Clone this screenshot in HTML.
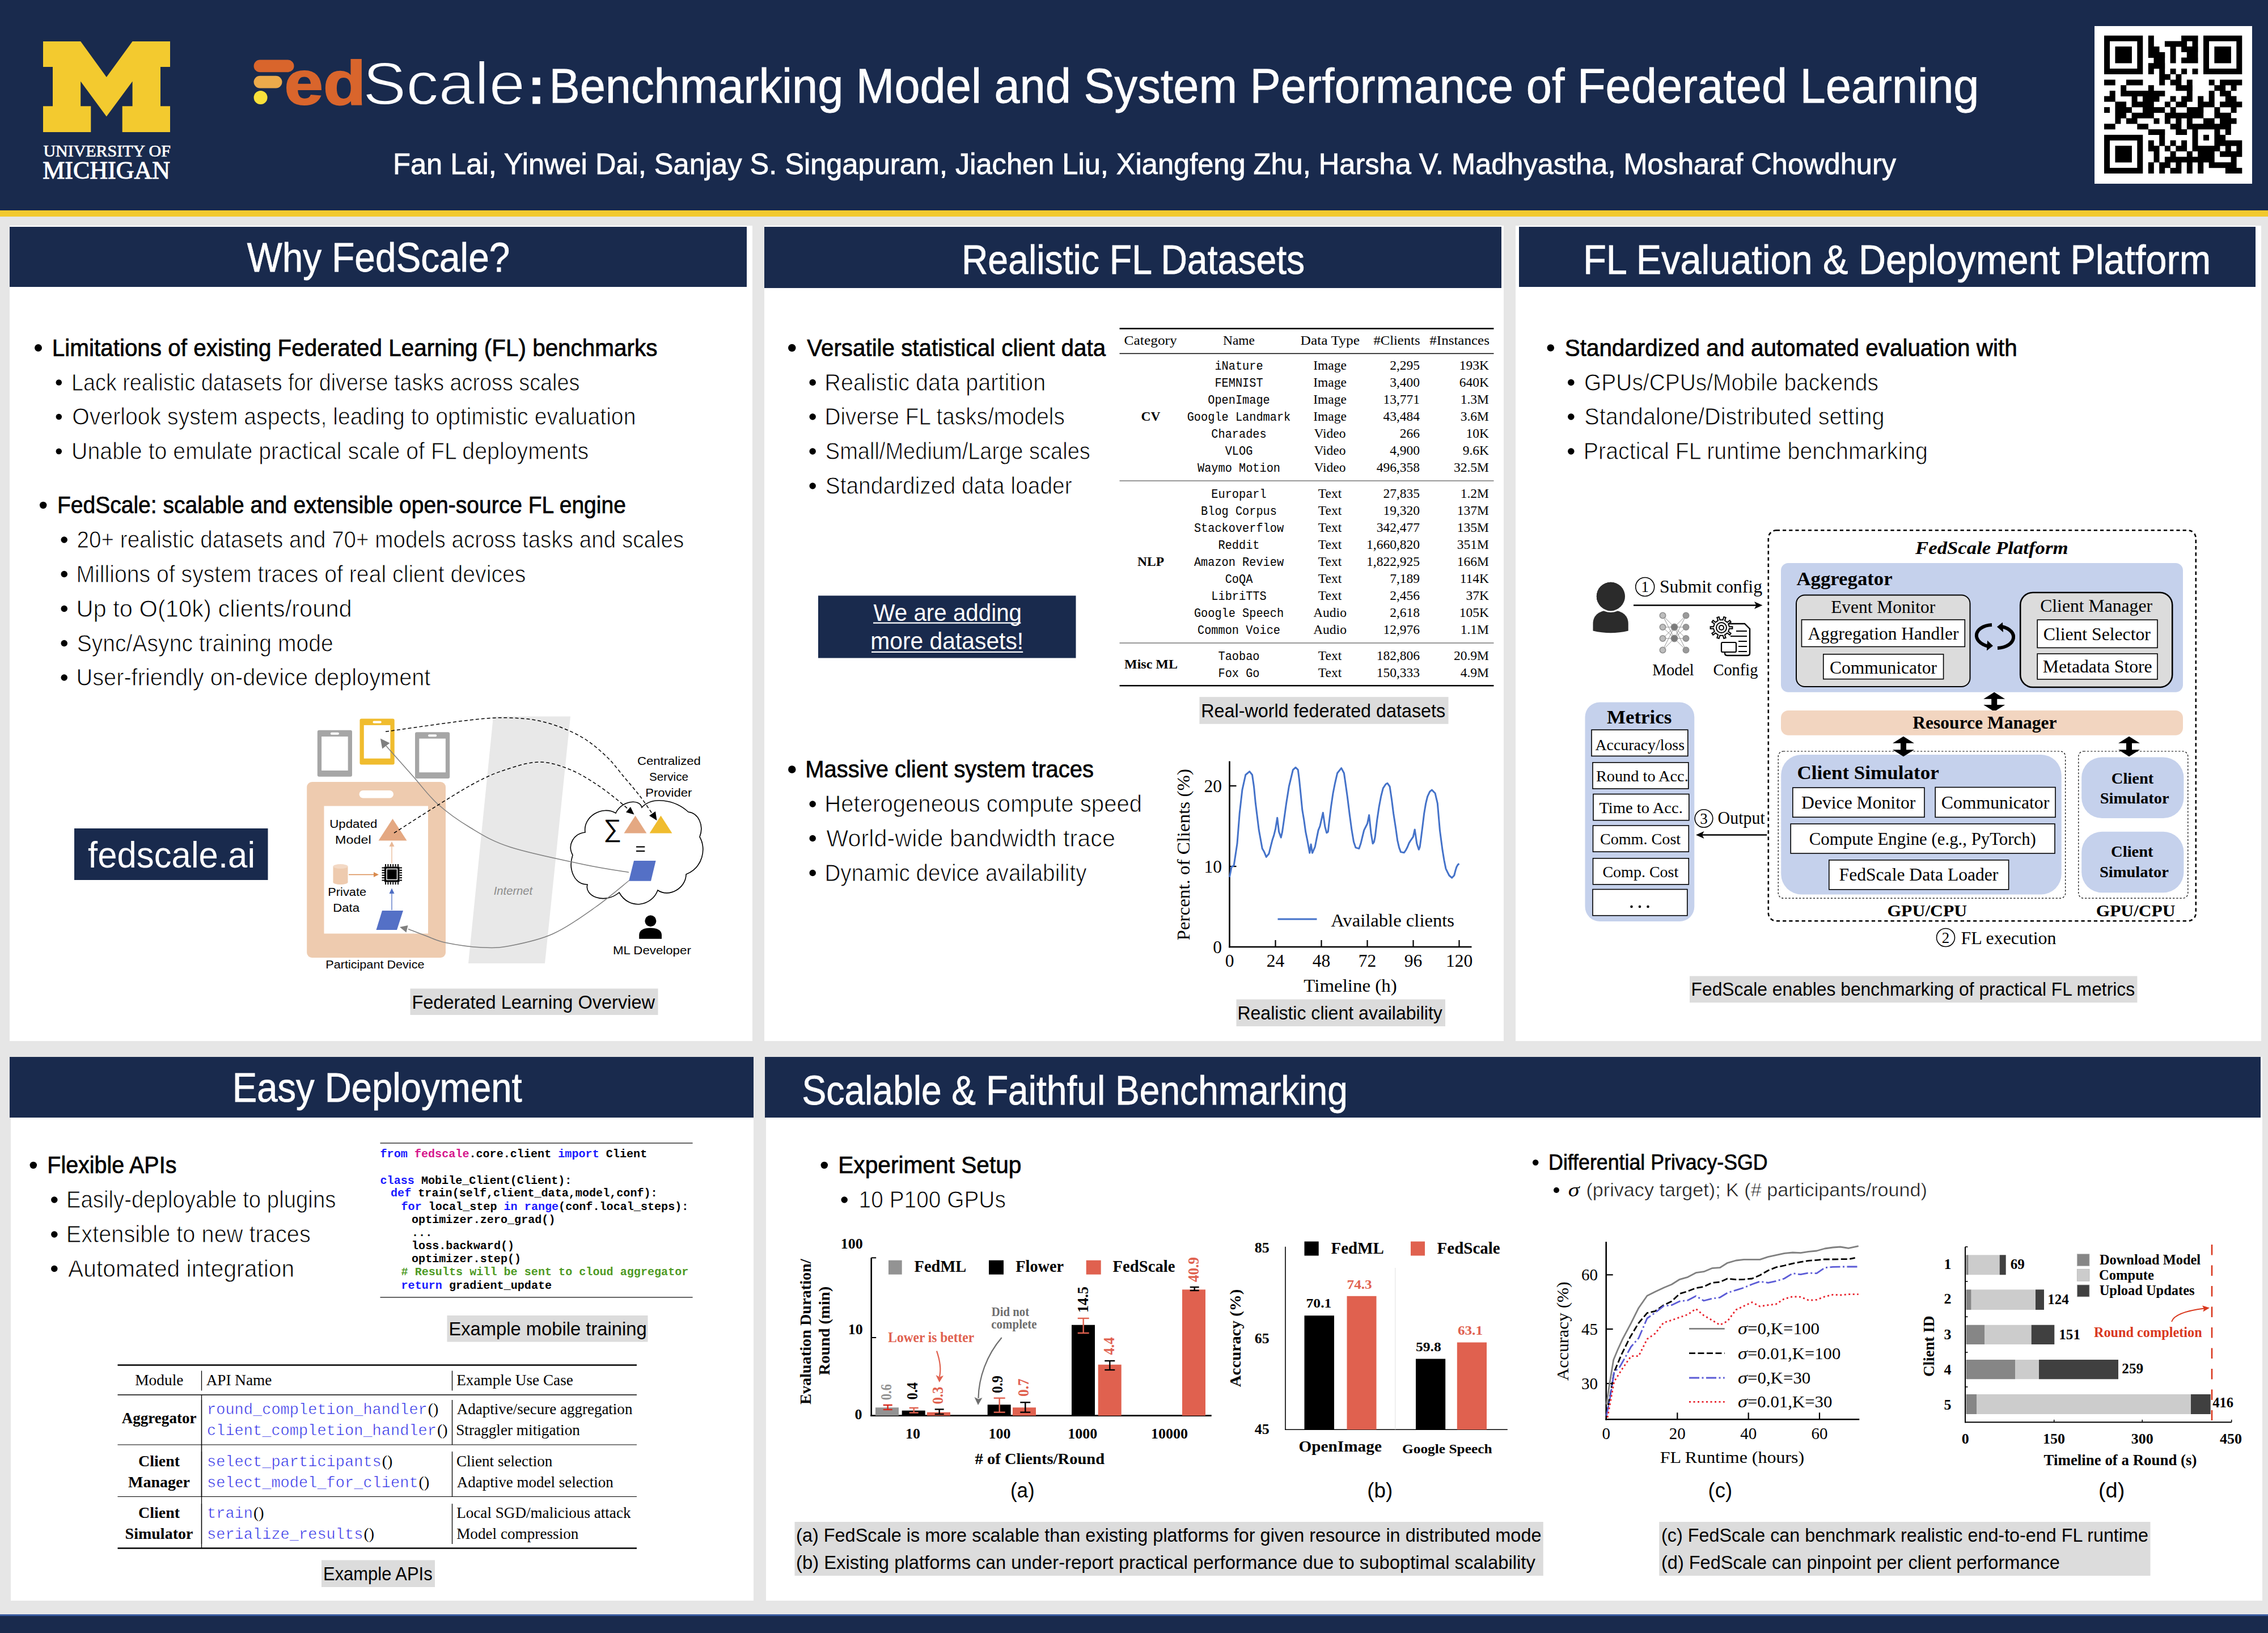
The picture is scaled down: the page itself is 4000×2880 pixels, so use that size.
<!DOCTYPE html>
<html lang="en"><head><meta charset="utf-8"><title>FedScale: Benchmarking Model and System Performance of Federated Learning</title>
<style>
html,body{margin:0;padding:0}
body{width:4000px;height:2880px;position:relative;overflow:hidden;background:#e6e6e6;font-family:"Liberation Sans",sans-serif}
body>div,body>header,body>section,body>footer{position:absolute;display:block}
svg{position:absolute;left:0;top:0}
text{white-space:pre}
.sa{font-family:"Liberation Sans",sans-serif}
.sab{font-family:"Liberation Sans",sans-serif;font-weight:bold}
.sai{font-family:"Liberation Sans",sans-serif;font-style:italic}
.lt{font-family:"Liberation Sans",sans-serif;stroke:#fff;stroke-width:0.9px}
.md{font-family:"Liberation Sans",sans-serif;stroke:#000;stroke-width:0.7px}
.wt{font-family:"Liberation Sans",sans-serif;fill:#fff;stroke:#fff;stroke-width:0.8px}
.se{font-family:"Liberation Serif",serif}
.seb{font-family:"Liberation Serif",serif;font-weight:bold}
.sei{font-family:"Liberation Serif",serif;font-style:italic}
.sebi{font-family:"Liberation Serif",serif;font-weight:bold;font-style:italic}
.mo{font-family:"Liberation Mono",monospace}
.mob{font-family:"Liberation Mono",monospace;font-weight:bold}
</style></head><body>
<header style="left:0px;top:0px;width:4000px;height:370.6px;background:#192a4d"></header>
<div style="left:0px;top:370.6px;width:4000px;height:11.899999999999977px;background:#f2c92e"></div>
<section style="left:17px;top:398.3px;width:1310px;height:1437.7px;background:#fff"></section>
<div style="left:17px;top:399.6px;width:1300px;height:106.39999999999998px;background:#192a4d"></div>
<section style="left:1348px;top:398.3px;width:1304px;height:1437.7px;background:#fff"></section>
<div style="left:1348px;top:399.6px;width:1300px;height:108.39999999999998px;background:#192a4d"></div>
<section style="left:2673px;top:398.3px;width:1315px;height:1437.7px;background:#fff"></section>
<div style="left:2679px;top:399.6px;width:1299px;height:106.39999999999998px;background:#192a4d"></div>
<section style="left:19px;top:1864px;width:1310px;height:959px;background:#fff"></section>
<div style="left:17px;top:1864px;width:1312px;height:106.5px;background:#192a4d"></div>
<section style="left:1351px;top:1864px;width:2639px;height:959px;background:#fff"></section>
<div style="left:1349px;top:1864px;width:2638px;height:106.5px;background:#192a4d"></div>
<div style="left:0px;top:2847px;width:4000px;height:3px;background:#3a5ba0"></div>
<footer style="left:0px;top:2850px;width:4000px;height:30px;background:#192a4d"></footer>
<svg width="4000" height="2880" viewBox="0 0 4000 2880">
<polygon points="76.0,72.9 142.2,72.9 187.8,136.0 233.6,72.9 300.0,72.9 300.0,117.9 283.0,117.9 283.0,187.3 300.0,187.3 300.0,233.0 215.7,233.0 215.7,187.3 233.6,187.3 233.6,143.5 187.8,205.5 142.2,143.5 142.2,187.3 160.3,187.3 160.3,233.0 76.0,233.0 76.0,187.3 93.0,187.3 93.0,117.9 76.0,117.9" fill="#f3ca2f"/>
<text class="se" font-size="29" fill="#fff" textLength="224.4" lengthAdjust="spacingAndGlyphs" x="76.4" y="275.7" stroke="#fff" stroke-width="0.7">UNIVERSITY OF</text>
<text class="se" font-size="44" fill="#fff" textLength="224.9" lengthAdjust="spacingAndGlyphs" x="75.2" y="314.5" stroke="#fff" stroke-width="1">MICHIGAN</text>
<rect x="447.6" y="105.6" width="70.9" height="21.7" fill="#d9652c" rx="10.85"/>
<rect x="447.6" y="133.7" width="49.9" height="21.7" fill="#ecaa4b" rx="10.85"/>
<circle cx="459.6" cy="172.0" r="12" fill="#f9e03a"/>
<text class="sab" font-size="110" fill="#d9652c" textLength="143.7" lengthAdjust="spacingAndGlyphs" x="501.5" y="183.6" stroke="#d9652c" stroke-width="2.2">ed</text>
<text class="sa" font-size="105" fill="#fff" textLength="286.3" lengthAdjust="spacingAndGlyphs" x="639.9" y="183.6" stroke="#192a4d" stroke-width="1.8">Scale</text>
<text class="sab" font-size="90" fill="#fff" x="931.0" y="183.3" stroke="#fff" stroke-width="0.5" stroke-linejoin="round">:</text>
<text class="wt" font-size="85" textLength="2522.0" lengthAdjust="spacingAndGlyphs" x="968.5" y="181.0">Benchmarking Model and System Performance of Federated Learning</text>
<text class="wt" font-size="52" textLength="2651.0" lengthAdjust="spacingAndGlyphs" x="693.0" y="307.0">Fan Lai, Yinwei Dai, Sanjay S. Singapuram, Jiachen Liu, Xiangfeng Zhu, Harsha V. Madhyastha, Mosharaf Chowdhury</text>
<rect x="3694.0" y="46.0" width="278.0" height="278.0" fill="#fff"/>
<path d="M3711.0 62.7h68.3v10.0h-68.3zM3788.8 62.7h10.0v10.0h-10.0zM3847.1 62.7h29.5v10.0h-29.5zM3886.0 62.7h68.3v10.0h-68.3zM3711.0 72.4h10.0v10.0h-10.0zM3769.3 72.4h10.0v10.0h-10.0zM3788.8 72.4h10.0v10.0h-10.0zM3817.9 72.4h39.2v10.0h-39.2zM3866.5 72.4h10.0v10.0h-10.0zM3886.0 72.4h10.0v10.0h-10.0zM3944.3 72.4h10.0v10.0h-10.0zM3711.0 82.1h10.0v10.0h-10.0zM3730.4 82.1h29.5v10.0h-29.5zM3769.3 82.1h10.0v10.0h-10.0zM3788.8 82.1h19.7v10.0h-19.7zM3827.6 82.1h10.0v10.0h-10.0zM3847.1 82.1h29.5v10.0h-29.5zM3886.0 82.1h10.0v10.0h-10.0zM3905.4 82.1h29.5v10.0h-29.5zM3944.3 82.1h10.0v10.0h-10.0zM3711.0 91.9h10.0v10.0h-10.0zM3730.4 91.9h29.5v10.0h-29.5zM3769.3 91.9h10.0v10.0h-10.0zM3788.8 91.9h29.5v10.0h-29.5zM3827.6 91.9h10.0v10.0h-10.0zM3856.8 91.9h19.7v10.0h-19.7zM3886.0 91.9h10.0v10.0h-10.0zM3905.4 91.9h29.5v10.0h-29.5zM3944.3 91.9h10.0v10.0h-10.0zM3711.0 101.6h10.0v10.0h-10.0zM3730.4 101.6h29.5v10.0h-29.5zM3769.3 101.6h10.0v10.0h-10.0zM3798.5 101.6h19.7v10.0h-19.7zM3827.6 101.6h10.0v10.0h-10.0zM3847.1 101.6h29.5v10.0h-29.5zM3886.0 101.6h10.0v10.0h-10.0zM3905.4 101.6h29.5v10.0h-29.5zM3944.3 101.6h10.0v10.0h-10.0zM3711.0 111.3h10.0v10.0h-10.0zM3769.3 111.3h10.0v10.0h-10.0zM3788.8 111.3h29.5v10.0h-29.5zM3886.0 111.3h10.0v10.0h-10.0zM3944.3 111.3h10.0v10.0h-10.0zM3711.0 121.0h68.3v10.0h-68.3zM3788.8 121.0h10.0v10.0h-10.0zM3808.2 121.0h10.0v10.0h-10.0zM3827.6 121.0h10.0v10.0h-10.0zM3847.1 121.0h10.0v10.0h-10.0zM3866.5 121.0h10.0v10.0h-10.0zM3886.0 121.0h68.3v10.0h-68.3zM3808.2 130.7h19.7v10.0h-19.7zM3837.4 130.7h10.0v10.0h-10.0zM3711.0 140.5h19.7v10.0h-19.7zM3749.9 140.5h29.5v10.0h-29.5zM3808.2 140.5h10.0v10.0h-10.0zM3827.6 140.5h19.7v10.0h-19.7zM3856.8 140.5h10.0v10.0h-10.0zM3895.7 140.5h10.0v10.0h-10.0zM3915.1 140.5h39.2v10.0h-39.2zM3740.2 150.2h10.0v10.0h-10.0zM3788.8 150.2h10.0v10.0h-10.0zM3837.4 150.2h29.5v10.0h-29.5zM3905.4 150.2h19.7v10.0h-19.7zM3934.6 150.2h10.0v10.0h-10.0zM3720.7 159.9h10.0v10.0h-10.0zM3740.2 159.9h78.1v10.0h-78.1zM3856.8 159.9h10.0v10.0h-10.0zM3895.7 159.9h10.0v10.0h-10.0zM3915.1 159.9h19.7v10.0h-19.7zM3711.0 169.6h19.7v10.0h-19.7zM3759.6 169.6h10.0v10.0h-10.0zM3779.0 169.6h29.5v10.0h-29.5zM3827.6 169.6h10.0v10.0h-10.0zM3847.1 169.6h19.7v10.0h-19.7zM3876.2 169.6h10.0v10.0h-10.0zM3895.7 169.6h10.0v10.0h-10.0zM3924.8 169.6h19.7v10.0h-19.7zM3730.4 179.3h19.7v10.0h-19.7zM3759.6 179.3h39.2v10.0h-39.2zM3817.9 179.3h10.0v10.0h-10.0zM3837.4 179.3h19.7v10.0h-19.7zM3876.2 179.3h29.5v10.0h-29.5zM3915.1 179.3h39.2v10.0h-39.2zM3711.0 189.1h10.0v10.0h-10.0zM3730.4 189.1h29.5v10.0h-29.5zM3779.0 189.1h39.2v10.0h-39.2zM3827.6 189.1h10.0v10.0h-10.0zM3856.8 189.1h29.5v10.0h-29.5zM3905.4 189.1h10.0v10.0h-10.0zM3934.6 189.1h10.0v10.0h-10.0zM3730.4 198.8h19.7v10.0h-19.7zM3759.6 198.8h39.2v10.0h-39.2zM3817.9 198.8h68.3v10.0h-68.3zM3905.4 198.8h29.5v10.0h-29.5zM3730.4 208.5h10.0v10.0h-10.0zM3749.9 208.5h19.7v10.0h-19.7zM3798.5 208.5h10.0v10.0h-10.0zM3817.9 208.5h10.0v10.0h-10.0zM3837.4 208.5h10.0v10.0h-10.0zM3856.8 208.5h10.0v10.0h-10.0zM3886.0 208.5h19.7v10.0h-19.7zM3915.1 208.5h29.5v10.0h-29.5zM3711.0 218.2h19.7v10.0h-19.7zM3769.3 218.2h19.7v10.0h-19.7zM3827.6 218.2h19.7v10.0h-19.7zM3856.8 218.2h78.1v10.0h-78.1zM3788.8 227.9h29.5v10.0h-29.5zM3837.4 227.9h19.7v10.0h-19.7zM3866.5 227.9h10.0v10.0h-10.0zM3905.4 227.9h10.0v10.0h-10.0zM3924.8 227.9h10.0v10.0h-10.0zM3711.0 237.7h68.3v10.0h-68.3zM3808.2 237.7h10.0v10.0h-10.0zM3866.5 237.7h10.0v10.0h-10.0zM3886.0 237.7h10.0v10.0h-10.0zM3905.4 237.7h19.7v10.0h-19.7zM3711.0 247.4h10.0v10.0h-10.0zM3769.3 247.4h10.0v10.0h-10.0zM3788.8 247.4h10.0v10.0h-10.0zM3808.2 247.4h10.0v10.0h-10.0zM3827.6 247.4h10.0v10.0h-10.0zM3847.1 247.4h10.0v10.0h-10.0zM3866.5 247.4h10.0v10.0h-10.0zM3905.4 247.4h48.9v10.0h-48.9zM3711.0 257.1h10.0v10.0h-10.0zM3730.4 257.1h29.5v10.0h-29.5zM3769.3 257.1h10.0v10.0h-10.0zM3788.8 257.1h19.7v10.0h-19.7zM3817.9 257.1h10.0v10.0h-10.0zM3837.4 257.1h19.7v10.0h-19.7zM3866.5 257.1h48.9v10.0h-48.9zM3924.8 257.1h10.0v10.0h-10.0zM3944.3 257.1h10.0v10.0h-10.0zM3711.0 266.8h10.0v10.0h-10.0zM3730.4 266.8h29.5v10.0h-29.5zM3769.3 266.8h10.0v10.0h-10.0zM3798.5 266.8h10.0v10.0h-10.0zM3827.6 266.8h10.0v10.0h-10.0zM3856.8 266.8h10.0v10.0h-10.0zM3876.2 266.8h29.5v10.0h-29.5zM3915.1 266.8h39.2v10.0h-39.2zM3711.0 276.5h10.0v10.0h-10.0zM3730.4 276.5h29.5v10.0h-29.5zM3769.3 276.5h10.0v10.0h-10.0zM3798.5 276.5h10.0v10.0h-10.0zM3817.9 276.5h87.8v10.0h-87.8zM3934.6 276.5h10.0v10.0h-10.0zM3711.0 286.3h10.0v10.0h-10.0zM3769.3 286.3h10.0v10.0h-10.0zM3788.8 286.3h10.0v10.0h-10.0zM3808.2 286.3h19.7v10.0h-19.7zM3837.4 286.3h10.0v10.0h-10.0zM3856.8 286.3h10.0v10.0h-10.0zM3876.2 286.3h10.0v10.0h-10.0zM3895.7 286.3h48.9v10.0h-48.9zM3711.0 296.0h68.3v10.0h-68.3zM3788.8 296.0h10.0v10.0h-10.0zM3808.2 296.0h10.0v10.0h-10.0zM3827.6 296.0h19.7v10.0h-19.7zM3856.8 296.0h10.0v10.0h-10.0zM3876.2 296.0h10.0v10.0h-10.0zM3924.8 296.0h29.5v10.0h-29.5z" fill="#000"/>
<text class="wt" font-size="72" textLength="463.5" lengthAdjust="spacingAndGlyphs" x="435.7" y="479.0">Why FedScale?</text>
<circle cx="67.5" cy="613.5" r="6.5" fill="#000"/>
<text class="md" font-size="42" textLength="1067.6" lengthAdjust="spacingAndGlyphs" x="91.8" y="627.5">Limitations of existing Federated Learning (FL) benchmarks</text>
<circle cx="103.8" cy="674.5" r="5.25" fill="#000"/>
<text class="lt" font-size="42" textLength="896.4" lengthAdjust="spacingAndGlyphs" x="126.0" y="688.5">Lack realistic datasets for diverse tasks across scales</text>
<circle cx="103.8" cy="735.0" r="5.25" fill="#000"/>
<text class="lt" font-size="42" textLength="994.3" lengthAdjust="spacingAndGlyphs" x="127.2" y="749.0">Overlook system aspects, leading to optimistic evaluation</text>
<circle cx="103.8" cy="796.0" r="5.25" fill="#000"/>
<text class="lt" font-size="42" textLength="912.2" lengthAdjust="spacingAndGlyphs" x="126.1" y="810.0">Unable to emulate practical scale of FL deployments</text>
<circle cx="76.2" cy="891.0" r="6.25" fill="#000"/>
<text class="md" font-size="42" textLength="1003.0" lengthAdjust="spacingAndGlyphs" x="100.9" y="905.0">FedScale: scalable and extensible open-source FL engine</text>
<circle cx="113.2" cy="952.0" r="5.75" fill="#000"/>
<text class="lt" font-size="42" textLength="1070.7" lengthAdjust="spacingAndGlyphs" x="135.6" y="966.0">20+ realistic datasets and 70+ models across tasks and scales</text>
<circle cx="113.2" cy="1012.5" r="5.75" fill="#000"/>
<text class="lt" font-size="42" textLength="793.0" lengthAdjust="spacingAndGlyphs" x="134.4" y="1026.5">Millions of system traces of real client devices</text>
<circle cx="113.2" cy="1073.5" r="5.75" fill="#000"/>
<text class="lt" font-size="42" textLength="486.4" lengthAdjust="spacingAndGlyphs" x="134.4" y="1087.5">Up to O(10k) clients/round</text>
<circle cx="113.2" cy="1134.5" r="5.75" fill="#000"/>
<text class="lt" font-size="42" textLength="452.1" lengthAdjust="spacingAndGlyphs" x="135.7" y="1148.5">Sync/Async training mode</text>
<circle cx="113.2" cy="1195.0" r="5.75" fill="#000"/>
<text class="lt" font-size="42" textLength="624.9" lengthAdjust="spacingAndGlyphs" x="134.5" y="1209.0">User-friendly on-device deployment</text>
<rect x="131.0" y="1461.0" width="341.5" height="91.0" fill="#192a4d"/>
<text class="sa" font-size="64" fill="#fff" textLength="295.0" lengthAdjust="spacingAndGlyphs" x="155.1" y="1530.0">fedscale.ai</text>
<polygon points="870.0,1263.5 1006.0,1263.5 961.0,1699.0 826.0,1699.0" fill="#e8e8e8"/>
<text class="sai" font-size="21" fill="#8c8c8c" textLength="68.5" lengthAdjust="spacingAndGlyphs" x="870.7" y="1577.5">Internet</text>
<rect x="559.8" y="1287.7" width="61.2" height="82.0" fill="#a6a6a6" rx="3"/>
<rect x="567.1" y="1299.0" width="46.6" height="59.9" fill="#fff"/>
<rect x="582.8" y="1291.7" width="15.2" height="4.0" fill="#fff" rx="2"/>
<rect x="634.5" y="1267.6" width="61.2" height="80.9" fill="#f0bc2e" rx="3"/>
<rect x="641.8" y="1278.9" width="46.6" height="58.8" fill="#fff"/>
<rect x="657.5" y="1271.6" width="15.2" height="4.0" fill="#fff" rx="2"/>
<rect x="732.0" y="1291.3" width="61.2" height="81.7" fill="#a6a6a6" rx="3"/>
<rect x="739.3" y="1302.6" width="46.6" height="59.6" fill="#fff"/>
<rect x="755.0" y="1295.3" width="15.2" height="4.0" fill="#fff" rx="2"/>
<rect x="541.2" y="1379.0" width="244.8" height="310.0" fill="#eecbaf" rx="9"/>
<rect x="571.5" y="1421.5" width="183.5" height="225.0" fill="#fff"/>
<rect x="633.5" y="1394.0" width="60.5" height="13.5" fill="#fff" rx="6.7"/>
<text class="sa" font-size="20" textLength="84.1" lengthAdjust="spacingAndGlyphs" x="581.3" y="1460.0">Updated</text>
<text class="sa" font-size="20" textLength="63.5" lengthAdjust="spacingAndGlyphs" x="591.1" y="1487.5">Model</text>
<polygon points="692.5,1444.0 717.5,1482.5 667.5,1482.5" fill="#e4a882"/>
<line x1="691.0" y1="1522.5" x2="691.0" y2="1492.0" stroke="#e9b896" stroke-width="1.3"/>
<polygon points="691.0,1484.0 695.5,1493.0 686.5,1493.0" fill="#e9b896"/>
<rect x="587.5" y="1528.0" width="26.0" height="28.0" fill="#eecbaf"/>
<ellipse cx="600.5" cy="1556" rx="13" ry="4" fill="#eecbaf"/><ellipse cx="600.5" cy="1528" rx="13" ry="4" fill="#f3d9c5"/>
<line x1="615.0" y1="1542.5" x2="660.0" y2="1542.5" stroke="#d98b4f" stroke-width="1.3"/>
<polygon points="668.0,1542.5 659.0,1538.0 659.0,1547.0" fill="#d98b4f"/>
<rect x="678.0" y="1528.5" width="26.5" height="27.0" fill="#000"/>
<rect x="682.0" y="1532.5" width="18.5" height="19.0" fill="none" stroke="#fff" stroke-width="1.5"/>
<rect x="685.5" y="1536.0" width="11.5" height="11.5" fill="#000"/>
<line x1="680.0" y1="1524.0" x2="680.0" y2="1528.5" stroke="#000" stroke-width="2"/>
<line x1="680.0" y1="1555.5" x2="680.0" y2="1560.0" stroke="#000" stroke-width="2"/>
<line x1="673.5" y1="1530.5" x2="678.0" y2="1530.5" stroke="#000" stroke-width="2"/>
<line x1="704.5" y1="1530.5" x2="709.0" y2="1530.5" stroke="#000" stroke-width="2"/>
<line x1="684.4" y1="1524.0" x2="684.4" y2="1528.5" stroke="#000" stroke-width="2"/>
<line x1="684.4" y1="1555.5" x2="684.4" y2="1560.0" stroke="#000" stroke-width="2"/>
<line x1="673.5" y1="1534.9" x2="678.0" y2="1534.9" stroke="#000" stroke-width="2"/>
<line x1="704.5" y1="1534.9" x2="709.0" y2="1534.9" stroke="#000" stroke-width="2"/>
<line x1="688.8" y1="1524.0" x2="688.8" y2="1528.5" stroke="#000" stroke-width="2"/>
<line x1="688.8" y1="1555.5" x2="688.8" y2="1560.0" stroke="#000" stroke-width="2"/>
<line x1="673.5" y1="1539.3" x2="678.0" y2="1539.3" stroke="#000" stroke-width="2"/>
<line x1="704.5" y1="1539.3" x2="709.0" y2="1539.3" stroke="#000" stroke-width="2"/>
<line x1="693.2" y1="1524.0" x2="693.2" y2="1528.5" stroke="#000" stroke-width="2"/>
<line x1="693.2" y1="1555.5" x2="693.2" y2="1560.0" stroke="#000" stroke-width="2"/>
<line x1="673.5" y1="1543.7" x2="678.0" y2="1543.7" stroke="#000" stroke-width="2"/>
<line x1="704.5" y1="1543.7" x2="709.0" y2="1543.7" stroke="#000" stroke-width="2"/>
<line x1="697.6" y1="1524.0" x2="697.6" y2="1528.5" stroke="#000" stroke-width="2"/>
<line x1="697.6" y1="1555.5" x2="697.6" y2="1560.0" stroke="#000" stroke-width="2"/>
<line x1="673.5" y1="1548.1" x2="678.0" y2="1548.1" stroke="#000" stroke-width="2"/>
<line x1="704.5" y1="1548.1" x2="709.0" y2="1548.1" stroke="#000" stroke-width="2"/>
<line x1="702.0" y1="1524.0" x2="702.0" y2="1528.5" stroke="#000" stroke-width="2"/>
<line x1="702.0" y1="1555.5" x2="702.0" y2="1560.0" stroke="#000" stroke-width="2"/>
<line x1="673.5" y1="1552.5" x2="678.0" y2="1552.5" stroke="#000" stroke-width="2"/>
<line x1="704.5" y1="1552.5" x2="709.0" y2="1552.5" stroke="#000" stroke-width="2"/>
<text class="sa" font-size="20" textLength="67.8" lengthAdjust="spacingAndGlyphs" x="578.3" y="1580.0">Private</text>
<text class="sa" font-size="20" textLength="46.8" lengthAdjust="spacingAndGlyphs" x="587.2" y="1607.5">Data</text>
<line x1="691.0" y1="1605.0" x2="691.0" y2="1575.0" stroke="#4f6fc4" stroke-width="1.3"/>
<polygon points="691.0,1566.5 695.5,1576.0 686.5,1576.0" fill="#4f6fc4"/>
<polygon points="674.0,1606.0 711.0,1606.0 700.0,1640.0 663.5,1640.0" fill="#5470c6"/>
<text class="sa" font-size="20" textLength="174.2" lengthAdjust="spacingAndGlyphs" x="574.3" y="1707.5">Participant Device</text>
<path d="M1010 1508 C1000 1490 1012 1470 1032 1468 C1028 1440 1062 1420 1086 1434 C1096 1412 1128 1408 1132 1424 C1150 1404 1190 1410 1214 1432 C1232 1434 1242 1456 1234 1476 C1246 1496 1240 1530 1210 1542 C1210 1566 1180 1584 1160 1570 C1150 1598 1110 1606 1092 1574 C1066 1596 1030 1580 1036 1560 C1012 1560 1002 1532 1010 1508Z" fill="#fff" stroke="#000" stroke-width="1.6"/>
<text class="sa" font-size="20" textLength="112.0" lengthAdjust="spacingAndGlyphs" x="1123.9" y="1348.7">Centralized</text>
<text class="sa" font-size="20" textLength="68.9" lengthAdjust="spacingAndGlyphs" x="1145.1" y="1377.0">Service</text>
<text class="sa" font-size="20" textLength="82.2" lengthAdjust="spacingAndGlyphs" x="1138.2" y="1404.7">Provider</text>
<text class="sa" font-size="44" textLength="31.9" lengthAdjust="spacingAndGlyphs" x="1064.4" y="1476.0">∑</text>
<polygon points="1120.5,1438.4 1140.4,1469.6 1100.5,1469.6" fill="#e4a882"/>
<polygon points="1165.5,1438.4 1185.4,1469.6 1145.6,1469.6" fill="#f0bc2e"/>
<line x1="1122.0" y1="1493.5" x2="1137.3" y2="1493.5" stroke="#000" stroke-width="2.2"/>
<line x1="1122.0" y1="1501.0" x2="1137.3" y2="1501.0" stroke="#000" stroke-width="2.2"/>
<polygon points="1118.0,1518.0 1156.6,1518.0 1148.0,1553.8 1109.1,1553.8" fill="#5470c6"/>
<circle cx="1147.4" cy="1624.3" r="10" fill="#000"/>
<path d="M1127.2 1655.8 V1649 C1127.2 1640 1136 1636.5 1147 1636.5 C1158 1636.5 1167 1640 1167 1649 V1655.8Z" fill="#000"/>
<text class="sa" font-size="20" textLength="137.8" lengthAdjust="spacingAndGlyphs" x="1081.0" y="1683.0">ML Developer</text>
<path d="M1109.0 1538.5 C1095.8 1536.2 1064.8 1532.1 1030.0 1524.7 C995.2 1517.3 933.3 1504.8 900.0 1494.0 C866.7 1483.2 851.3 1472.7 830.0 1460.0 C808.7 1447.3 788.9 1433.2 772.0 1418.0 C755.1 1402.8 743.6 1386.1 728.4 1369.0 C713.2 1351.9 688.9 1324.4 681.0 1315.5" fill="none" stroke="#7f7f7f" stroke-width="1.5"/>
<polygon points="670.9,1302.6 687.4,1310.6 674.2,1320.4" fill="#7f7f7f"/>
<path d="M1110.0 1552.5 C1100.0 1560.4 1072.5 1584.2 1050.0 1600.0 C1027.5 1615.8 1000.0 1635.7 975.0 1647.0 C950.0 1658.3 920.8 1664.0 900.0 1668.0 C879.2 1672.0 869.0 1671.9 850.0 1671.0 C831.0 1670.1 802.7 1666.0 786.0 1662.5 C769.3 1659.0 761.0 1654.0 750.0 1650.0 C739.0 1646.0 725.0 1640.4 720.0 1638.5" fill="none" stroke="#7f7f7f" stroke-width="1.5"/>
<polygon points="705.0,1635.0 719.5,1632.0 716.5,1644.5" fill="#7f7f7f"/>
<path d="M680.1 1290.3 C705.1 1286.9 793.4 1273.8 830.0 1269.8 C866.6 1265.8 878.2 1265.3 900.0 1266.0 C921.8 1266.7 940.6 1268.4 961.0 1273.7 C981.4 1279.0 1004.6 1288.1 1022.5 1298.0 C1040.4 1307.9 1055.2 1320.7 1068.4 1333.0 C1081.7 1345.3 1091.8 1360.0 1102.0 1372.0 C1112.2 1384.0 1121.4 1394.6 1129.6 1405.3 C1137.8 1416.0 1147.4 1430.9 1151.0 1436.0" fill="none" stroke="#000" stroke-width="1.5" stroke-dasharray="6 4"/>
<polygon points="1158.5,1447.0 1145.0,1438.5 1156.0,1431.0" fill="#000"/>
<path d="M695.0 1469.0 C717.5 1455.0 795.8 1404.0 830.0 1385.0 C864.2 1366.0 879.2 1361.6 900.0 1354.8 C920.8 1348.0 937.2 1343.5 955.0 1344.0 C972.8 1344.5 990.7 1351.2 1007.0 1357.9 C1023.3 1364.6 1039.2 1375.0 1053.0 1383.9 C1066.8 1392.8 1080.3 1404.0 1089.8 1411.5 C1099.3 1419.0 1106.6 1426.1 1110.0 1429.0" fill="none" stroke="#000" stroke-width="1.5" stroke-dasharray="6 4"/>
<polygon points="1118.5,1436.5 1104.0,1432.5 1112.0,1423.0" fill="#000"/>
<rect x="723.5" y="1743.5" width="437.0" height="46.5" fill="#dcdcdc"/>
<text class="sa" font-size="33.5" textLength="428.6" lengthAdjust="spacingAndGlyphs" x="726.4" y="1779.0">Federated Learning Overview</text>
<text class="wt" font-size="72" textLength="605.4" lengthAdjust="spacingAndGlyphs" x="1695.9" y="482.5">Realistic FL Datasets</text>
<circle cx="1396.8" cy="613.5" r="6.75" fill="#000"/>
<text class="md" font-size="42" textLength="526.8" lengthAdjust="spacingAndGlyphs" x="1423.3" y="627.5">Versatile statistical client data</text>
<circle cx="1433.2" cy="674.5" r="5.75" fill="#000"/>
<text class="lt" font-size="42" textLength="389.9" lengthAdjust="spacingAndGlyphs" x="1454.3" y="688.5">Realistic data partition</text>
<circle cx="1433.2" cy="735.0" r="5.75" fill="#000"/>
<text class="lt" font-size="42" textLength="423.5" lengthAdjust="spacingAndGlyphs" x="1454.4" y="749.0">Diverse FL tasks/models</text>
<circle cx="1433.2" cy="796.0" r="5.75" fill="#000"/>
<text class="lt" font-size="42" textLength="467.0" lengthAdjust="spacingAndGlyphs" x="1455.8" y="810.0">Small/Medium/Large scales</text>
<circle cx="1433.2" cy="857.0" r="5.75" fill="#000"/>
<text class="lt" font-size="42" textLength="435.0" lengthAdjust="spacingAndGlyphs" x="1455.7" y="871.0">Standardized data loader</text>
<circle cx="1396.8" cy="1357.0" r="6.75" fill="#000"/>
<text class="md" font-size="42" textLength="508.6" lengthAdjust="spacingAndGlyphs" x="1420.3" y="1371.0">Massive client system traces</text>
<circle cx="1433.2" cy="1418.0" r="5.75" fill="#000"/>
<text class="lt" font-size="42" textLength="559.8" lengthAdjust="spacingAndGlyphs" x="1454.3" y="1432.0">Heterogeneous compute speed</text>
<circle cx="1433.2" cy="1478.5" r="5.75" fill="#000"/>
<text class="lt" font-size="42" textLength="509.6" lengthAdjust="spacingAndGlyphs" x="1457.3" y="1492.5">World-wide bandwidth trace</text>
<circle cx="1433.2" cy="1539.5" r="5.75" fill="#000"/>
<text class="lt" font-size="42" textLength="462.1" lengthAdjust="spacingAndGlyphs" x="1454.4" y="1553.5">Dynamic device availability</text>
<rect x="1443.0" y="1050.5" width="454.5" height="110.0" fill="#192a4d"/>
<text class="sa" font-size="42" fill="#fff" textLength="261.5" lengthAdjust="spacingAndGlyphs" x="1540.5" y="1094.6">We are adding</text>
<line x1="1540.0" y1="1098.6" x2="1800.4" y2="1098.6" stroke="#fff" stroke-width="2.2"/>
<text class="sa" font-size="42" fill="#fff" textLength="270.0" lengthAdjust="spacingAndGlyphs" x="1535.2" y="1145.4">more datasets!</text>
<line x1="1537.0" y1="1149.8" x2="1804.2" y2="1149.8" stroke="#fff" stroke-width="2.2"/>
<line x1="1974.5" y1="579.5" x2="2634.5" y2="579.5" stroke="#000" stroke-width="2.4"/>
<line x1="1974.5" y1="623.5" x2="2634.5" y2="623.5" stroke="#000" stroke-width="1.5"/>
<line x1="1974.5" y1="848.0" x2="2634.5" y2="848.0" stroke="#333" stroke-width="1.2"/>
<line x1="1974.5" y1="1134.0" x2="2634.5" y2="1134.0" stroke="#333" stroke-width="1.2"/>
<line x1="1974.5" y1="1209.3" x2="2634.5" y2="1209.3" stroke="#000" stroke-width="2.4"/>
<text class="se" font-size="23.5" textLength="93.2" lengthAdjust="spacingAndGlyphs" x="1982.6" y="607.5">Category</text>
<text class="se" font-size="23.5" text-anchor="middle" x="2185.0" y="607.5">Name</text>
<text class="se" font-size="23.5" textLength="104.4" lengthAdjust="spacingAndGlyphs" x="2293.6" y="607.5">Data Type</text>
<text class="se" font-size="23.5" textLength="82.0" lengthAdjust="spacingAndGlyphs" x="2422.5" y="607.5">#Clients</text>
<text class="se" font-size="23.5" textLength="105.6" lengthAdjust="spacingAndGlyphs" x="2521.3" y="607.5">#Instances</text>
<text class="mo" font-size="21.8" text-anchor="middle" textLength="85.2" lengthAdjust="spacingAndGlyphs" x="2185.0" y="651.5">iNature</text>
<text class="se" font-size="23.5" text-anchor="middle" x="2345.5" y="651.5">Image</text>
<text class="se" font-size="23.5" text-anchor="end" x="2504.0" y="651.5">2,295</text>
<text class="se" font-size="23.5" text-anchor="end" x="2626.0" y="651.5">193K</text>
<text class="mo" font-size="21.8" text-anchor="middle" textLength="85.2" lengthAdjust="spacingAndGlyphs" x="2185.0" y="681.5">FEMNIST</text>
<text class="se" font-size="23.5" text-anchor="middle" x="2345.5" y="681.5">Image</text>
<text class="se" font-size="23.5" text-anchor="end" x="2504.0" y="681.5">3,400</text>
<text class="se" font-size="23.5" text-anchor="end" x="2626.0" y="681.5">640K</text>
<text class="mo" font-size="21.8" text-anchor="middle" textLength="109.5" lengthAdjust="spacingAndGlyphs" x="2185.0" y="711.6">OpenImage</text>
<text class="se" font-size="23.5" text-anchor="middle" x="2345.5" y="711.6">Image</text>
<text class="se" font-size="23.5" text-anchor="end" x="2504.0" y="711.6">13,771</text>
<text class="se" font-size="23.5" text-anchor="end" x="2626.0" y="711.6">1.3M</text>
<text class="mo" font-size="21.8" text-anchor="middle" textLength="182.6" lengthAdjust="spacingAndGlyphs" x="2185.0" y="741.6">Google Landmark</text>
<text class="se" font-size="23.5" text-anchor="middle" x="2345.5" y="741.6">Image</text>
<text class="se" font-size="23.5" text-anchor="end" x="2504.0" y="741.6">43,484</text>
<text class="se" font-size="23.5" text-anchor="end" x="2626.0" y="741.6">3.6M</text>
<text class="mo" font-size="21.8" text-anchor="middle" textLength="97.4" lengthAdjust="spacingAndGlyphs" x="2185.0" y="771.7">Charades</text>
<text class="se" font-size="23.5" text-anchor="middle" x="2345.5" y="771.7">Video</text>
<text class="se" font-size="23.5" text-anchor="end" x="2504.0" y="771.7">266</text>
<text class="se" font-size="23.5" text-anchor="end" x="2626.0" y="771.7">10K</text>
<text class="mo" font-size="21.8" text-anchor="middle" textLength="48.7" lengthAdjust="spacingAndGlyphs" x="2185.0" y="801.8">VLOG</text>
<text class="se" font-size="23.5" text-anchor="middle" x="2345.5" y="801.8">Video</text>
<text class="se" font-size="23.5" text-anchor="end" x="2504.0" y="801.8">4,900</text>
<text class="se" font-size="23.5" text-anchor="end" x="2626.0" y="801.8">9.6K</text>
<text class="mo" font-size="21.8" text-anchor="middle" textLength="146.0" lengthAdjust="spacingAndGlyphs" x="2185.0" y="831.8">Waymo Motion</text>
<text class="se" font-size="23.5" text-anchor="middle" x="2345.5" y="831.8">Video</text>
<text class="se" font-size="23.5" text-anchor="end" x="2504.0" y="831.8">496,358</text>
<text class="se" font-size="23.5" text-anchor="end" x="2626.0" y="831.8">32.5M</text>
<text class="mo" font-size="21.8" text-anchor="middle" textLength="97.4" lengthAdjust="spacingAndGlyphs" x="2185.0" y="877.5">Europarl</text>
<text class="se" font-size="23.5" text-anchor="middle" x="2345.5" y="877.5">Text</text>
<text class="se" font-size="23.5" text-anchor="end" x="2504.0" y="877.5">27,835</text>
<text class="se" font-size="23.5" text-anchor="end" x="2626.0" y="877.5">1.2M</text>
<text class="mo" font-size="21.8" text-anchor="middle" textLength="133.9" lengthAdjust="spacingAndGlyphs" x="2185.0" y="907.5">Blog Corpus</text>
<text class="se" font-size="23.5" text-anchor="middle" x="2345.5" y="907.5">Text</text>
<text class="se" font-size="23.5" text-anchor="end" x="2504.0" y="907.5">19,320</text>
<text class="se" font-size="23.5" text-anchor="end" x="2626.0" y="907.5">137M</text>
<text class="mo" font-size="21.8" text-anchor="middle" textLength="158.2" lengthAdjust="spacingAndGlyphs" x="2185.0" y="937.6">Stackoverflow</text>
<text class="se" font-size="23.5" text-anchor="middle" x="2345.5" y="937.6">Text</text>
<text class="se" font-size="23.5" text-anchor="end" x="2504.0" y="937.6">342,477</text>
<text class="se" font-size="23.5" text-anchor="end" x="2626.0" y="937.6">135M</text>
<text class="mo" font-size="21.8" text-anchor="middle" textLength="73.0" lengthAdjust="spacingAndGlyphs" x="2185.0" y="967.6">Reddit</text>
<text class="se" font-size="23.5" text-anchor="middle" x="2345.5" y="967.6">Text</text>
<text class="se" font-size="23.5" text-anchor="end" x="2504.0" y="967.6">1,660,820</text>
<text class="se" font-size="23.5" text-anchor="end" x="2626.0" y="967.6">351M</text>
<text class="mo" font-size="21.8" text-anchor="middle" textLength="158.2" lengthAdjust="spacingAndGlyphs" x="2185.0" y="997.7">Amazon Review</text>
<text class="se" font-size="23.5" text-anchor="middle" x="2345.5" y="997.7">Text</text>
<text class="se" font-size="23.5" text-anchor="end" x="2504.0" y="997.7">1,822,925</text>
<text class="se" font-size="23.5" text-anchor="end" x="2626.0" y="997.7">166M</text>
<text class="mo" font-size="21.8" text-anchor="middle" textLength="48.7" lengthAdjust="spacingAndGlyphs" x="2185.0" y="1027.8">CoQA</text>
<text class="se" font-size="23.5" text-anchor="middle" x="2345.5" y="1027.8">Text</text>
<text class="se" font-size="23.5" text-anchor="end" x="2504.0" y="1027.8">7,189</text>
<text class="se" font-size="23.5" text-anchor="end" x="2626.0" y="1027.8">114K</text>
<text class="mo" font-size="21.8" text-anchor="middle" textLength="97.4" lengthAdjust="spacingAndGlyphs" x="2185.0" y="1057.8">LibriTTS</text>
<text class="se" font-size="23.5" text-anchor="middle" x="2345.5" y="1057.8">Text</text>
<text class="se" font-size="23.5" text-anchor="end" x="2504.0" y="1057.8">2,456</text>
<text class="se" font-size="23.5" text-anchor="end" x="2626.0" y="1057.8">37K</text>
<text class="mo" font-size="21.8" text-anchor="middle" textLength="158.2" lengthAdjust="spacingAndGlyphs" x="2185.0" y="1087.8">Google Speech</text>
<text class="se" font-size="23.5" text-anchor="middle" x="2345.5" y="1087.8">Audio</text>
<text class="se" font-size="23.5" text-anchor="end" x="2504.0" y="1087.8">2,618</text>
<text class="se" font-size="23.5" text-anchor="end" x="2626.0" y="1087.8">105K</text>
<text class="mo" font-size="21.8" text-anchor="middle" textLength="146.0" lengthAdjust="spacingAndGlyphs" x="2185.0" y="1117.9">Common Voice</text>
<text class="se" font-size="23.5" text-anchor="middle" x="2345.5" y="1117.9">Audio</text>
<text class="se" font-size="23.5" text-anchor="end" x="2504.0" y="1117.9">12,976</text>
<text class="se" font-size="23.5" text-anchor="end" x="2626.0" y="1117.9">1.1M</text>
<text class="mo" font-size="21.8" text-anchor="middle" textLength="73.0" lengthAdjust="spacingAndGlyphs" x="2185.0" y="1163.5">Taobao</text>
<text class="se" font-size="23.5" text-anchor="middle" x="2345.5" y="1163.5">Text</text>
<text class="se" font-size="23.5" text-anchor="end" x="2504.0" y="1163.5">182,806</text>
<text class="se" font-size="23.5" text-anchor="end" x="2626.0" y="1163.5">20.9M</text>
<text class="mo" font-size="21.8" text-anchor="middle" textLength="73.0" lengthAdjust="spacingAndGlyphs" x="2185.0" y="1193.5">Fox Go</text>
<text class="se" font-size="23.5" text-anchor="middle" x="2345.5" y="1193.5">Text</text>
<text class="se" font-size="23.5" text-anchor="end" x="2504.0" y="1193.5">150,333</text>
<text class="se" font-size="23.5" text-anchor="end" x="2626.0" y="1193.5">4.9M</text>
<text class="seb" font-size="23.5" text-anchor="middle" x="2029.5" y="741.5">CV</text>
<text class="seb" font-size="23.5" text-anchor="middle" x="2029.5" y="997.5">NLP</text>
<text class="seb" font-size="23.5" textLength="93.8" lengthAdjust="spacingAndGlyphs" x="1983.1" y="1178.5">Misc ML</text>
<rect x="2115.4" y="1229.2" width="439.1" height="47.6" fill="#dcdcdc"/>
<text class="sa" font-size="33.5" textLength="431.0" lengthAdjust="spacingAndGlyphs" x="2118.2" y="1264.6">Real-world federated datasets</text>
<line x1="2168.5" y1="1342.5" x2="2168.5" y2="1671.3" stroke="#000" stroke-width="2.6"/>
<line x1="2167.2" y1="1670.0" x2="2595.5" y2="1670.0" stroke="#000" stroke-width="2.6"/>
<line x1="2249.5" y1="1670.0" x2="2249.5" y2="1658.0" stroke="#000" stroke-width="2.2"/>
<line x1="2330.5" y1="1670.0" x2="2330.5" y2="1658.0" stroke="#000" stroke-width="2.2"/>
<line x1="2411.5" y1="1670.0" x2="2411.5" y2="1658.0" stroke="#000" stroke-width="2.2"/>
<line x1="2492.5" y1="1670.0" x2="2492.5" y2="1658.0" stroke="#000" stroke-width="2.2"/>
<line x1="2573.5" y1="1670.0" x2="2573.5" y2="1658.0" stroke="#000" stroke-width="2.2"/>
<line x1="2168.5" y1="1528.0" x2="2180.5" y2="1528.0" stroke="#000" stroke-width="2.2"/>
<line x1="2168.5" y1="1386.0" x2="2180.5" y2="1386.0" stroke="#000" stroke-width="2.2"/>
<polyline points="2168.5,1546.9 2172.0,1529.2 2176.2,1526.2 2182.0,1487.8 2186.2,1434.5 2190.9,1393.1 2196.8,1366.5 2203.8,1360.6 2208.5,1366.5 2211.5,1387.2 2214.4,1416.8 2220.3,1464.1 2226.2,1496.6 2229.7,1502.6 2233.3,1511.4 2238.0,1505.5 2240.9,1493.7 2243.9,1481.8 2246.8,1473.0 2249.7,1461.1 2252.7,1442.2 2255.6,1467.1 2259.2,1477.1 2261.5,1467.1 2264.5,1446.3 2268.6,1416.8 2273.3,1387.2 2280.4,1357.6 2285.1,1353.5 2289.2,1357.6 2291.5,1375.3 2293.9,1399.0 2296.8,1428.6 2299.8,1446.3 2302.7,1467.1 2305.7,1481.8 2309.8,1504.3 2312.1,1489.0 2314.5,1504.3 2319.2,1493.7 2322.1,1478.9 2325.1,1464.1 2328.0,1457.0 2330.4,1446.3 2333.3,1433.3 2336.9,1458.2 2339.8,1468.8 2342.2,1467.1 2343.9,1452.3 2347.5,1422.7 2351.0,1399.0 2354.5,1381.3 2358.6,1363.5 2365.7,1354.6 2370.4,1363.5 2373.4,1384.2 2376.3,1404.9 2380.4,1437.5 2384.0,1464.1 2387.5,1484.8 2391.0,1494.9 2396.9,1496.6 2399.9,1487.8 2402.8,1475.9 2405.7,1464.1 2408.7,1458.2 2411.6,1452.3 2414.6,1437.5 2418.1,1470.0 2421.1,1487.8 2423.4,1484.8 2425.2,1475.9 2428.7,1446.3 2432.2,1422.7 2435.8,1403.8 2439.3,1390.1 2444.0,1383.0 2447.0,1381.3 2451.1,1387.2 2454.6,1410.8 2457.6,1434.5 2461.7,1461.1 2464.6,1481.8 2467.6,1494.9 2470.5,1502.6 2476.4,1503.7 2479.3,1499.6 2482.3,1493.7 2485.2,1486.6 2488.2,1481.8 2492.3,1475.9 2495.2,1462.9 2498.8,1487.8 2502.3,1498.4 2504.1,1493.7 2505.8,1481.8 2508.8,1458.2 2511.7,1434.5 2514.7,1416.8 2517.6,1404.9 2521.7,1396.1 2525.3,1393.1 2531.1,1399.0 2535.3,1416.8 2537.6,1443.4 2539.4,1464.1 2541.7,1481.8 2544.1,1499.6 2547.0,1517.3 2550.0,1532.1 2552.9,1538.1 2555.9,1544.0 2560.6,1548.1 2564.7,1544.0 2567.0,1535.1 2568.8,1529.2 2571.2,1525.0 2573.5,1523.3" fill="none" stroke="#4472c9" stroke-width="3" stroke-linejoin="round"/>
<text class="se" font-size="31.5" text-anchor="end" x="2155.0" y="1397.0">20</text>
<text class="se" font-size="31.5" text-anchor="end" x="2155.0" y="1539.0">10</text>
<text class="se" font-size="31.5" text-anchor="end" x="2155.0" y="1681.0">0</text>
<text class="se" font-size="31.5" text-anchor="middle" x="2168.5" y="1705.0">0</text>
<text class="se" font-size="31.5" text-anchor="middle" x="2249.5" y="1705.0">24</text>
<text class="se" font-size="31.5" text-anchor="middle" x="2330.5" y="1705.0">48</text>
<text class="se" font-size="31.5" text-anchor="middle" x="2411.5" y="1705.0">72</text>
<text class="se" font-size="31.5" text-anchor="middle" x="2492.5" y="1705.0">96</text>
<text class="se" font-size="31.5" text-anchor="middle" x="2573.5" y="1705.0">120</text>
<text class="se" font-size="31.5" textLength="164.5" lengthAdjust="spacingAndGlyphs" x="2299.3" y="1749.0">Timeline (h)</text>
<text class="se" font-size="31.5" textLength="302.4" lengthAdjust="spacingAndGlyphs" transform="translate(2098.0 1658.5) rotate(-90)">Percent. of Clients (%)</text>
<line x1="2253.5" y1="1621.0" x2="2322.5" y2="1621.0" stroke="#4472c9" stroke-width="3"/>
<text class="se" font-size="31.5" textLength="217.9" lengthAdjust="spacingAndGlyphs" x="2347.2" y="1634.0">Available clients</text>
<rect x="2180.5" y="1762.5" width="368.5" height="47.5" fill="#dcdcdc"/>
<text class="sa" font-size="33.5" textLength="361.5" lengthAdjust="spacingAndGlyphs" x="2182.4" y="1797.5">Realistic client availability</text>
<text class="wt" font-size="72" textLength="1107.0" lengthAdjust="spacingAndGlyphs" x="2792.2" y="482.5">FL Evaluation &amp; Deployment Platform</text>
<circle cx="2734.8" cy="613.5" r="6.25" fill="#000"/>
<text class="md" font-size="42" textLength="798.0" lengthAdjust="spacingAndGlyphs" x="2759.7" y="627.5">Standardized and automated evaluation with</text>
<circle cx="2770.8" cy="674.5" r="5.75" fill="#000"/>
<text class="lt" font-size="42" textLength="518.8" lengthAdjust="spacingAndGlyphs" x="2794.1" y="688.5">GPUs/CPUs/Mobile backends</text>
<circle cx="2770.8" cy="735.0" r="5.75" fill="#000"/>
<text class="lt" font-size="42" textLength="529.4" lengthAdjust="spacingAndGlyphs" x="2794.2" y="749.0">Standalone/Distributed setting</text>
<circle cx="2770.8" cy="796.0" r="5.75" fill="#000"/>
<text class="lt" font-size="42" textLength="607.2" lengthAdjust="spacingAndGlyphs" x="2792.8" y="810.0">Practical FL runtime benchmarking</text>
<circle cx="2840.8" cy="1051.8" r="25" fill="#2b2b2b"/>
<path d="M2809.5 1112.5 V1100 C2809.5 1084 2822 1076 2840.7 1076 C2859 1076 2871.75 1084 2871.75 1100 V1112.5 Q2840.7 1120 2809.5 1112.5Z" fill="#2b2b2b" stroke="#fff" stroke-width="0"/>
<circle cx="2840.8" cy="1051.8" r="27" fill="none" stroke="#fff" stroke-width="2.5"/>
<circle cx="2840.8" cy="1051.8" r="25" fill="#2b2b2b"/>
<circle cx="2901.2" cy="1035.0" r="16.5" fill="none" stroke="#000" stroke-width="1.6"/>
<text class="se" font-size="27" text-anchor="middle" x="2901.2" y="1044.0">1</text>
<text class="se" font-size="32" textLength="181.2" lengthAdjust="spacingAndGlyphs" x="2926.9" y="1045.0">Submit config</text>
<line x1="2881.0" y1="1067.5" x2="3098.0" y2="1067.5" stroke="#000" stroke-width="2.6"/>
<polygon points="3108.5,1067.5 3094.0,1061.0 3097.5,1067.5 3094.0,1074.0" fill="#000"/>
<line x1="2932.5" y1="1085.5" x2="2953.0" y2="1106.0" stroke="#8a8a8a" stroke-width="0.9"/>
<line x1="2973.5" y1="1085.5" x2="2953.0" y2="1106.0" stroke="#8a8a8a" stroke-width="0.9"/>
<line x1="2932.5" y1="1085.5" x2="2953.0" y2="1126.0" stroke="#8a8a8a" stroke-width="0.9"/>
<line x1="2973.5" y1="1085.5" x2="2953.0" y2="1126.0" stroke="#8a8a8a" stroke-width="0.9"/>
<line x1="2932.5" y1="1106.0" x2="2953.0" y2="1106.0" stroke="#8a8a8a" stroke-width="0.9"/>
<line x1="2973.5" y1="1106.0" x2="2953.0" y2="1106.0" stroke="#8a8a8a" stroke-width="0.9"/>
<line x1="2932.5" y1="1106.0" x2="2953.0" y2="1126.0" stroke="#8a8a8a" stroke-width="0.9"/>
<line x1="2973.5" y1="1106.0" x2="2953.0" y2="1126.0" stroke="#8a8a8a" stroke-width="0.9"/>
<line x1="2932.5" y1="1126.0" x2="2953.0" y2="1106.0" stroke="#8a8a8a" stroke-width="0.9"/>
<line x1="2973.5" y1="1126.0" x2="2953.0" y2="1106.0" stroke="#8a8a8a" stroke-width="0.9"/>
<line x1="2932.5" y1="1126.0" x2="2953.0" y2="1126.0" stroke="#8a8a8a" stroke-width="0.9"/>
<line x1="2973.5" y1="1126.0" x2="2953.0" y2="1126.0" stroke="#8a8a8a" stroke-width="0.9"/>
<line x1="2932.5" y1="1146.5" x2="2953.0" y2="1106.0" stroke="#8a8a8a" stroke-width="0.9"/>
<line x1="2973.5" y1="1146.5" x2="2953.0" y2="1106.0" stroke="#8a8a8a" stroke-width="0.9"/>
<line x1="2932.5" y1="1146.5" x2="2953.0" y2="1126.0" stroke="#8a8a8a" stroke-width="0.9"/>
<line x1="2973.5" y1="1146.5" x2="2953.0" y2="1126.0" stroke="#8a8a8a" stroke-width="0.9"/>
<circle cx="2932.5" cy="1085.5" r="5.2" fill="#bdbdbd" stroke="#8f8f8f" stroke-width="1.6"/>
<circle cx="2973.5" cy="1085.5" r="5.2" fill="#9a9a9a" stroke="#8f8f8f" stroke-width="1.6"/>
<circle cx="2932.5" cy="1106.0" r="5.2" fill="#bdbdbd" stroke="#8f8f8f" stroke-width="1.6"/>
<circle cx="2973.5" cy="1106.0" r="5.2" fill="#9a9a9a" stroke="#8f8f8f" stroke-width="1.6"/>
<circle cx="2932.5" cy="1126.0" r="5.2" fill="#bdbdbd" stroke="#8f8f8f" stroke-width="1.6"/>
<circle cx="2973.5" cy="1126.0" r="5.2" fill="#9a9a9a" stroke="#8f8f8f" stroke-width="1.6"/>
<circle cx="2932.5" cy="1146.5" r="5.2" fill="#bdbdbd" stroke="#8f8f8f" stroke-width="1.6"/>
<circle cx="2973.5" cy="1146.5" r="5.2" fill="#9a9a9a" stroke="#8f8f8f" stroke-width="1.6"/>
<circle cx="2953.0" cy="1106.0" r="5.6" fill="#7a7a7a" stroke="#8a8a8a" stroke-width="1.6"/>
<circle cx="2953.0" cy="1126.0" r="5.6" fill="#7a7a7a" stroke="#8a8a8a" stroke-width="1.6"/>
<text class="se" font-size="30" textLength="73.3" lengthAdjust="spacingAndGlyphs" x="2914.2" y="1191.0">Model</text>
<path d="M3048 1100 H3077 L3086 1109 V1152 Q3086 1156 3082 1156 H3046 Q3042 1156 3042 1152 V1146" fill="none" stroke="#000" stroke-width="2.4"/>
<line x1="3062.0" y1="1113.0" x2="3081.0" y2="1113.0" stroke="#000" stroke-width="2"/>
<line x1="3052.0" y1="1122.0" x2="3081.0" y2="1122.0" stroke="#000" stroke-width="2"/>
<line x1="3066.0" y1="1131.0" x2="3081.0" y2="1131.0" stroke="#000" stroke-width="2"/>
<line x1="3066.0" y1="1140.0" x2="3081.0" y2="1140.0" stroke="#000" stroke-width="2"/>
<line x1="3066.0" y1="1149.0" x2="3081.0" y2="1149.0" stroke="#000" stroke-width="2"/>
<rect x="3036.0" y="1133.0" width="26.0" height="17.0" fill="#fff" rx="2" stroke="#000" stroke-width="2.2"/>
<path d="M3049.9 1105.3L3055.4 1105.2L3055.4 1108.8L3049.9 1108.7L3048.2 1113.8L3052.7 1117.0L3050.7 1119.8L3046.3 1116.5L3041.9 1119.7L3043.7 1124.9L3040.3 1126.0L3038.7 1120.7L3033.3 1120.7L3031.7 1126.0L3028.3 1124.9L3030.1 1119.7L3025.7 1116.5L3021.3 1119.8L3019.3 1117.0L3023.8 1113.8L3022.1 1108.7L3016.6 1108.8L3016.6 1105.2L3022.1 1105.3L3023.8 1100.2L3019.3 1097.0L3021.3 1094.2L3025.7 1097.5L3030.1 1094.3L3028.3 1089.1L3031.7 1088.0L3033.3 1093.3L3038.7 1093.3L3040.3 1088.0L3043.7 1089.1L3041.9 1094.3L3046.3 1097.5L3050.7 1094.2L3052.7 1097.0L3048.2 1100.2Z" fill="#fff" stroke="#000" stroke-width="2"/>
<circle cx="3036.0" cy="1107.0" r="9" fill="#fff" stroke="#000" stroke-width="2"/>
<circle cx="3036.0" cy="1107.0" r="4" fill="#fff" stroke="#000" stroke-width="2"/>
<text class="se" font-size="30" textLength="79.1" lengthAdjust="spacingAndGlyphs" x="3021.4" y="1191.0">Config</text>
<rect x="3118.8" y="935.3" width="754.0" height="689.0" fill="none" rx="14" stroke="#000" stroke-width="2.6" stroke-dasharray="6.2 5"/>
<text class="sebi" font-size="32" textLength="269.5" lengthAdjust="spacingAndGlyphs" x="3378.0" y="977.0">FedScale Platform</text>
<rect x="3141.0" y="993.0" width="709.0" height="227.8" fill="#c5d1ec" rx="13"/>
<text class="seb" font-size="34" textLength="169.3" lengthAdjust="spacingAndGlyphs" x="3168.4" y="1031.8">Aggregator</text>
<rect x="3168.0" y="1049.5" width="306.5" height="161.5" fill="#dcdcdc" rx="15" stroke="#000" stroke-width="2"/>
<text class="se" font-size="31" text-anchor="middle" textLength="184.0" lengthAdjust="spacingAndGlyphs" x="3321.2" y="1081.0">Event Monitor</text>
<rect x="3177.5" y="1093.0" width="287.8" height="47.5" fill="#fff" stroke="#000" stroke-width="1.6"/>
<text class="se" font-size="31" text-anchor="middle" textLength="266.0" lengthAdjust="spacingAndGlyphs" x="3321.4" y="1128.0">Aggregation Handler</text>
<rect x="3215.8" y="1153.8" width="211.8" height="43.8" fill="#fff" stroke="#000" stroke-width="1.6"/>
<text class="se" font-size="31" text-anchor="middle" textLength="189.0" lengthAdjust="spacingAndGlyphs" x="3321.6" y="1187.5">Communicator</text>
<path d="M3513 1102 C3480 1104 3476 1132 3507 1140" fill="none" stroke="#000" stroke-width="6"/>
<polygon points="3515.0,1139.0 3505.0,1129.5 3504.0,1147.5" fill="#000"/>
<path d="M3523 1143 C3556 1141 3562 1112 3530 1105" fill="none" stroke="#000" stroke-width="6"/>
<polygon points="3522.0,1105.5 3532.0,1097.5 3533.0,1115.0" fill="#000"/>
<rect x="3563.2" y="1045.0" width="268.0" height="167.0" fill="#dcdcdc" rx="22" stroke="#000" stroke-width="2.6"/>
<text class="se" font-size="31" textLength="197.8" lengthAdjust="spacingAndGlyphs" x="3598.2" y="1079.2">Client Manager</text>
<rect x="3593.2" y="1093.2" width="211.8" height="49.2" fill="#fff" stroke="#000" stroke-width="1.6"/>
<text class="se" font-size="31" textLength="189.2" lengthAdjust="spacingAndGlyphs" x="3603.7" y="1128.8">Client Selector</text>
<rect x="3593.2" y="1153.0" width="211.8" height="45.0" fill="#fff" stroke="#000" stroke-width="1.6"/>
<text class="se" font-size="31" textLength="192.9" lengthAdjust="spacingAndGlyphs" x="3602.8" y="1185.8">Metadata Store</text>
<polygon points="3517.2,1220.8 3536.2,1232.8 3522.2,1232.8 3522.2,1243.0 3536.2,1243.0 3517.2,1255.0 3498.2,1243.0 3512.2,1243.0 3512.2,1232.8 3498.2,1232.8" fill="#000"/>
<rect x="3141.0" y="1253.0" width="709.0" height="43.8" fill="#f2d5c0" rx="13"/>
<text class="seb" font-size="31" textLength="254.3" lengthAdjust="spacingAndGlyphs" x="3373.3" y="1285.0">Resource Manager</text>
<rect x="3136.2" y="1325.0" width="506.5" height="259.2" fill="none" rx="9" stroke="#000" stroke-width="1.2" stroke-dasharray="3.2 3"/>
<rect x="3141.2" y="1331.0" width="494.5" height="246.5" fill="#c5d1ec" rx="36"/>
<rect x="3665.8" y="1325.0" width="193.0" height="259.2" fill="none" rx="9" stroke="#000" stroke-width="1.2" stroke-dasharray="3.2 3"/>
<polygon points="3357.0,1298.8 3376.0,1310.8 3362.0,1310.8 3362.0,1322.2 3376.0,1322.2 3357.0,1334.2 3338.0,1322.2 3352.0,1322.2 3352.0,1310.8 3338.0,1310.8" fill="#000"/>
<polygon points="3755.0,1298.8 3774.0,1310.8 3760.0,1310.8 3760.0,1322.2 3774.0,1322.2 3755.0,1334.2 3736.0,1322.2 3750.0,1322.2 3750.0,1310.8 3736.0,1310.8" fill="#000"/>
<text class="seb" font-size="34" textLength="250.4" lengthAdjust="spacingAndGlyphs" x="3169.5" y="1374.2">Client Simulator</text>
<rect x="3161.8" y="1389.2" width="232.2" height="52.0" fill="#fff" stroke="#000" stroke-width="1.6"/>
<text class="se" font-size="31" textLength="201.2" lengthAdjust="spacingAndGlyphs" x="3177.1" y="1425.5">Device Monitor</text>
<rect x="3413.2" y="1388.5" width="211.8" height="52.8" fill="#fff" stroke="#000" stroke-width="1.6"/>
<text class="se" font-size="31" textLength="190.6" lengthAdjust="spacingAndGlyphs" x="3423.7" y="1426.0">Communicator</text>
<rect x="3158.2" y="1453.0" width="465.8" height="52.0" fill="#fff" stroke="#000" stroke-width="1.6"/>
<text class="se" font-size="31" textLength="400.1" lengthAdjust="spacingAndGlyphs" x="3190.8" y="1490.0">Compute Engine (e.g., PyTorch)</text>
<rect x="3225.8" y="1516.8" width="316.8" height="52.0" fill="#fff" stroke="#000" stroke-width="1.6"/>
<text class="se" font-size="31" textLength="280.8" lengthAdjust="spacingAndGlyphs" x="3243.6" y="1553.0">FedScale Data Loader</text>
<text class="seb" font-size="30" textLength="140.8" lengthAdjust="spacingAndGlyphs" x="3328.4" y="1616.2">GPU/CPU</text>
<rect x="3671.2" y="1335.5" width="180.2" height="107.5" fill="#c5d1ec" rx="36"/>
<text class="seb" font-size="27" textLength="74.5" lengthAdjust="spacingAndGlyphs" x="3723.8" y="1382.2">Client</text>
<text class="seb" font-size="27" textLength="121.9" lengthAdjust="spacingAndGlyphs" x="3703.7" y="1417.2">Simulator</text>
<rect x="3671.2" y="1466.8" width="180.2" height="107.5" fill="#c5d1ec" rx="36"/>
<text class="seb" font-size="27" textLength="74.5" lengthAdjust="spacingAndGlyphs" x="3723.1" y="1511.2">Client</text>
<text class="seb" font-size="27" textLength="121.9" lengthAdjust="spacingAndGlyphs" x="3702.9" y="1546.8">Simulator</text>
<text class="seb" font-size="30" textLength="139.8" lengthAdjust="spacingAndGlyphs" x="3696.7" y="1616.2">GPU/CPU</text>
<rect x="2795.5" y="1238.5" width="192.8" height="386.5" fill="#c5d1ec" rx="26"/>
<text class="seb" font-size="34" textLength="114.4" lengthAdjust="spacingAndGlyphs" x="2834.0" y="1275.5">Metrics</text>
<rect x="2807.0" y="1287.2" width="169.8" height="46.2" fill="#fff" stroke="#000" stroke-width="1.6"/>
<text class="se" font-size="28" textLength="157.5" lengthAdjust="spacingAndGlyphs" x="2813.5" y="1322.5">Accuracy/loss</text>
<rect x="2809.0" y="1344.8" width="168.8" height="46.2" fill="#fff" stroke="#000" stroke-width="1.6"/>
<text class="se" font-size="28" textLength="162.9" lengthAdjust="spacingAndGlyphs" x="2814.9" y="1378.0">Round to Acc.</text>
<rect x="2810.0" y="1400.5" width="168.8" height="46.2" fill="#fff" stroke="#000" stroke-width="1.6"/>
<text class="se" font-size="28" textLength="147.4" lengthAdjust="spacingAndGlyphs" x="2820.4" y="1433.5">Time to Acc.</text>
<rect x="2809.5" y="1456.0" width="168.8" height="46.2" fill="#fff" stroke="#000" stroke-width="1.6"/>
<text class="se" font-size="28" textLength="142.3" lengthAdjust="spacingAndGlyphs" x="2821.9" y="1488.8">Comm. Cost</text>
<rect x="2809.5" y="1513.8" width="168.8" height="46.0" fill="#fff" stroke="#000" stroke-width="1.6"/>
<text class="se" font-size="28" textLength="133.9" lengthAdjust="spacingAndGlyphs" x="2826.4" y="1546.8">Comp. Cost</text>
<rect x="2809.0" y="1568.5" width="166.8" height="46.2" fill="#fff" stroke="#000" stroke-width="1.6"/>
<circle cx="2877.5" cy="1599.0" r="2.3" fill="#000"/>
<circle cx="2892.0" cy="1599.0" r="2.3" fill="#000"/>
<circle cx="2906.5" cy="1599.0" r="2.3" fill="#000"/>
<circle cx="3005.0" cy="1443.5" r="15.8" fill="none" stroke="#000" stroke-width="1.6"/>
<text class="se" font-size="27" text-anchor="middle" x="3005.0" y="1452.5">3</text>
<text class="se" font-size="32" textLength="83.2" lengthAdjust="spacingAndGlyphs" x="3029.6" y="1453.0">Output</text>
<line x1="3001.0" y1="1472.5" x2="3116.2" y2="1472.5" stroke="#000" stroke-width="2.6"/>
<polygon points="2991.0,1472.5 3005.5,1466.0 3002.0,1472.5 3005.5,1479.0" fill="#000"/>
<circle cx="3431.5" cy="1653.5" r="16" fill="none" stroke="#000" stroke-width="1.6"/>
<text class="se" font-size="27" text-anchor="middle" x="3431.5" y="1662.5">2</text>
<text class="se" font-size="32" textLength="167.9" lengthAdjust="spacingAndGlyphs" x="3458.6" y="1665.0">FL execution</text>
<rect x="2980.0" y="1721.4" width="789.4" height="46.8" fill="#dcdcdc"/>
<text class="sa" font-size="33.5" textLength="782.7" lengthAdjust="spacingAndGlyphs" x="2982.5" y="1756.0">FedScale enables benchmarking of practical FL metrics</text>
<text class="wt" font-size="72" textLength="510.7" lengthAdjust="spacingAndGlyphs" x="409.8" y="1942.5">Easy Deployment</text>
<circle cx="58.8" cy="2055.0" r="6.25" fill="#000"/>
<text class="md" font-size="42" textLength="228.1" lengthAdjust="spacingAndGlyphs" x="83.3" y="2069.0">Flexible APIs</text>
<circle cx="95.8" cy="2116.0" r="5.75" fill="#000"/>
<text class="lt" font-size="42" textLength="475.5" lengthAdjust="spacingAndGlyphs" x="116.9" y="2130.0">Easily-deployable to plugins</text>
<circle cx="95.8" cy="2177.0" r="5.75" fill="#000"/>
<text class="lt" font-size="42" textLength="431.0" lengthAdjust="spacingAndGlyphs" x="116.8" y="2191.0">Extensible to new traces</text>
<circle cx="95.8" cy="2237.5" r="5.75" fill="#000"/>
<text class="lt" font-size="42" textLength="399.1" lengthAdjust="spacingAndGlyphs" x="120.0" y="2251.5">Automated integration</text>
<line x1="670.5" y1="2016.0" x2="1221.6" y2="2016.0" stroke="#333" stroke-width="1.3"/>
<line x1="670.5" y1="2288.0" x2="1221.6" y2="2288.0" stroke="#333" stroke-width="1.3"/>
<text class="mob" font-size="20.2" fill="#1a1aff" textLength="60.4" lengthAdjust="spacingAndGlyphs" x="670.5" y="2041.0">from </text>
<text class="mob" font-size="20.2" fill="#d6168c" textLength="96.6" lengthAdjust="spacingAndGlyphs" x="730.9" y="2041.0">fedscale</text>
<text class="mob" font-size="20.2" fill="#000" textLength="156.9" lengthAdjust="spacingAndGlyphs" x="827.4" y="2041.0">.core.client </text>
<text class="mob" font-size="20.2" fill="#1a1aff" textLength="84.5" lengthAdjust="spacingAndGlyphs" x="984.3" y="2041.0">import </text>
<text class="mob" font-size="20.2" fill="#000" textLength="72.4" lengthAdjust="spacingAndGlyphs" x="1068.8" y="2041.0">Client</text>
<text class="mob" font-size="20.2" fill="#1a1aff" textLength="72.4" lengthAdjust="spacingAndGlyphs" x="670.5" y="2087.5">class </text>
<text class="mob" font-size="20.2" fill="#000" textLength="265.5" lengthAdjust="spacingAndGlyphs" x="742.9" y="2087.5">Mobile_Client(Client):</text>
<text class="mob" font-size="20.2" fill="#1a1aff" textLength="48.3" lengthAdjust="spacingAndGlyphs" x="689.0" y="2110.0">def </text>
<text class="mob" font-size="20.2" fill="#000" textLength="422.4" lengthAdjust="spacingAndGlyphs" x="737.3" y="2110.0">train(self,client_data,model,conf):</text>
<text class="mob" font-size="20.2" fill="#1a1aff" textLength="48.3" lengthAdjust="spacingAndGlyphs" x="707.5" y="2133.5">for </text>
<text class="mob" font-size="20.2" fill="#000" textLength="132.8" lengthAdjust="spacingAndGlyphs" x="755.8" y="2133.5">local_step </text>
<text class="mob" font-size="20.2" fill="#1a1aff" textLength="36.2" lengthAdjust="spacingAndGlyphs" x="888.5" y="2133.5">in </text>
<text class="mob" font-size="20.2" fill="#1a1aff" textLength="60.4" lengthAdjust="spacingAndGlyphs" x="924.8" y="2133.5">range</text>
<text class="mob" font-size="20.2" fill="#000" textLength="229.3" lengthAdjust="spacingAndGlyphs" x="985.1" y="2133.5">(conf.local_steps):</text>
<text class="mob" font-size="20.2" fill="#000" textLength="253.5" lengthAdjust="spacingAndGlyphs" x="726.0" y="2156.5">optimizer.zero_grad()</text>
<text class="mob" font-size="20.2" fill="#000" textLength="36.2" lengthAdjust="spacingAndGlyphs" x="726.0" y="2180.0">...</text>
<text class="mob" font-size="20.2" fill="#000" textLength="181.1" lengthAdjust="spacingAndGlyphs" x="726.0" y="2202.5">loss.backward()</text>
<text class="mob" font-size="20.2" fill="#000" textLength="193.1" lengthAdjust="spacingAndGlyphs" x="726.0" y="2226.0">optimizer.step()</text>
<text class="mob" font-size="20.2" fill="#4e9a24" textLength="506.9" lengthAdjust="spacingAndGlyphs" x="707.5" y="2249.0"># Results will be sent to cloud aggregator</text>
<text class="mob" font-size="20.2" fill="#1a1aff" textLength="84.5" lengthAdjust="spacingAndGlyphs" x="707.5" y="2272.5">return </text>
<text class="mob" font-size="20.2" fill="#000" textLength="181.1" lengthAdjust="spacingAndGlyphs" x="792.0" y="2272.5">gradient_update</text>
<rect x="788.5" y="2320.0" width="354.0" height="46.5" fill="#dcdcdc"/>
<text class="sa" font-size="33.5" textLength="349.3" lengthAdjust="spacingAndGlyphs" x="791.4" y="2354.5">Example mobile training</text>
<line x1="207.5" y1="2407.5" x2="1123.0" y2="2407.5" stroke="#000" stroke-width="2.4"/>
<line x1="207.5" y1="2460.0" x2="1123.0" y2="2460.0" stroke="#000" stroke-width="1.5"/>
<line x1="207.5" y1="2548.0" x2="1123.0" y2="2548.0" stroke="#000" stroke-width="1.2"/>
<line x1="207.5" y1="2639.5" x2="1123.0" y2="2639.5" stroke="#000" stroke-width="1.2"/>
<line x1="207.5" y1="2730.5" x2="1123.0" y2="2730.5" stroke="#000" stroke-width="2.4"/>
<line x1="355.5" y1="2417.5" x2="355.5" y2="2452.5" stroke="#000" stroke-width="1.3"/>
<line x1="355.5" y1="2469.0" x2="355.5" y2="2548.0" stroke="#000" stroke-width="1.3"/>
<line x1="355.5" y1="2548.0" x2="355.5" y2="2639.5" stroke="#000" stroke-width="1.3"/>
<line x1="355.5" y1="2560.0" x2="355.5" y2="2639.5" stroke="#000" stroke-width="1.3"/>
<line x1="355.5" y1="2652.0" x2="355.5" y2="2723.0" stroke="#000" stroke-width="1.3"/>
<line x1="797.5" y1="2417.5" x2="797.5" y2="2452.5" stroke="#000" stroke-width="1.3"/>
<line x1="797.5" y1="2469.0" x2="797.5" y2="2548.0" stroke="#000" stroke-width="1.3"/>
<line x1="797.5" y1="2560.0" x2="797.5" y2="2639.5" stroke="#000" stroke-width="1.3"/>
<line x1="797.5" y1="2652.0" x2="797.5" y2="2723.0" stroke="#000" stroke-width="1.3"/>
<line x1="355.5" y1="2460.0" x2="355.5" y2="2730.0" stroke="#000" stroke-width="1.3"/>
<text class="se" font-size="28" textLength="85.3" lengthAdjust="spacingAndGlyphs" x="238.2" y="2442.5">Module</text>
<text class="se" font-size="28" textLength="115.7" lengthAdjust="spacingAndGlyphs" x="363.7" y="2442.5">API Name</text>
<text class="se" font-size="28" textLength="205.7" lengthAdjust="spacingAndGlyphs" x="805.2" y="2442.5">Example Use Case</text>
<text class="seb" font-size="28" textLength="131.8" lengthAdjust="spacingAndGlyphs" x="214.7" y="2510.0">Aggregator</text>
<text class="seb" font-size="28" text-anchor="middle" x="280.5" y="2585.5">Client</text>
<text class="seb" font-size="28" text-anchor="middle" x="280.5" y="2622.5">Manager</text>
<text class="seb" font-size="28" text-anchor="middle" x="280.5" y="2677.0">Client</text>
<text class="seb" font-size="28" text-anchor="middle" x="280.5" y="2714.0">Simulator</text>
<text class="mo" font-size="27" fill="#2a2ae6" textLength="388.8" lengthAdjust="spacingAndGlyphs" x="365.0" y="2494.0" stroke="#fff" stroke-width="0.6">round_completion_handler</text>
<text class="se" font-size="28" x="754.8" y="2494.0">()</text>
<text class="mo" font-size="27" fill="#2a2ae6" textLength="405.0" lengthAdjust="spacingAndGlyphs" x="365.0" y="2531.0" stroke="#fff" stroke-width="0.6">client_completion_handler</text>
<text class="se" font-size="28" x="771.0" y="2531.0">()</text>
<text class="mo" font-size="27" fill="#2a2ae6" textLength="307.8" lengthAdjust="spacingAndGlyphs" x="365.0" y="2585.5" stroke="#fff" stroke-width="0.6">select_participants</text>
<text class="se" font-size="28" x="673.8" y="2585.5">()</text>
<text class="mo" font-size="27" fill="#2a2ae6" textLength="372.6" lengthAdjust="spacingAndGlyphs" x="365.0" y="2622.5" stroke="#fff" stroke-width="0.6">select_model_for_client</text>
<text class="se" font-size="28" x="738.6" y="2622.5">()</text>
<text class="mo" font-size="27" fill="#2a2ae6" textLength="81.0" lengthAdjust="spacingAndGlyphs" x="365.0" y="2677.0" stroke="#fff" stroke-width="0.6">train</text>
<text class="se" font-size="28" x="447.0" y="2677.0">()</text>
<text class="mo" font-size="27" fill="#2a2ae6" textLength="275.4" lengthAdjust="spacingAndGlyphs" x="365.0" y="2714.0" stroke="#fff" stroke-width="0.6">serialize_results</text>
<text class="se" font-size="28" x="641.4" y="2714.0">()</text>
<text class="se" font-size="28" textLength="309.7" lengthAdjust="spacingAndGlyphs" x="805.7" y="2494.0">Adaptive/secure aggregation</text>
<text class="se" font-size="28" textLength="218.7" lengthAdjust="spacingAndGlyphs" x="804.2" y="2531.0">Straggler mitigation</text>
<text class="se" font-size="28" textLength="169.4" lengthAdjust="spacingAndGlyphs" x="804.9" y="2585.5">Client selection</text>
<text class="se" font-size="28" textLength="276.1" lengthAdjust="spacingAndGlyphs" x="805.7" y="2622.5">Adaptive model selection</text>
<text class="se" font-size="28" textLength="307.3" lengthAdjust="spacingAndGlyphs" x="805.2" y="2677.0">Local SGD/malicious attack</text>
<text class="se" font-size="28" textLength="215.2" lengthAdjust="spacingAndGlyphs" x="805.2" y="2714.0">Model compression</text>
<rect x="567.0" y="2751.5" width="200.0" height="47.5" fill="#dcdcdc"/>
<text class="sa" font-size="33.5" textLength="192.6" lengthAdjust="spacingAndGlyphs" x="570.0" y="2786.5">Example APIs</text>
<text class="wt" font-size="72" textLength="962.3" lengthAdjust="spacingAndGlyphs" x="1414.6" y="1947.5">Scalable &amp; Faithful Benchmarking</text>
<circle cx="1453.8" cy="2055.0" r="6.25" fill="#000"/>
<text class="md" font-size="42" textLength="323.3" lengthAdjust="spacingAndGlyphs" x="1478.2" y="2069.0">Experiment Setup</text>
<circle cx="1489.2" cy="2116.0" r="5.75" fill="#000"/>
<text class="lt" font-size="42" textLength="259.3" lengthAdjust="spacingAndGlyphs" x="1514.6" y="2130.0">10 P100 GPUs</text>
<circle cx="2708.2" cy="2050.3" r="5.25" fill="#000"/>
<text class="md" font-size="38" textLength="386.6" lengthAdjust="spacingAndGlyphs" x="2731.1" y="2063.3">Differential Privacy-SGD</text>
<circle cx="2745.0" cy="2099.0" r="5.0" fill="#000"/>
<text class="sei" font-size="34" textLength="19.9" lengthAdjust="spacingAndGlyphs" x="2765.8" y="2110.0">σ</text>
<text class="sa" font-size="33" fill="#1a1a1a" textLength="601.4" lengthAdjust="spacingAndGlyphs" x="2797.5" y="2110.0" stroke="#fff" stroke-width="0.5">(privacy target); K (# participants/round)</text>
<line x1="1536.7" y1="2218.3" x2="1536.7" y2="2498.0" stroke="#000" stroke-width="2.6"/>
<line x1="1535.4" y1="2496.7" x2="2136.7" y2="2496.7" stroke="#000" stroke-width="2.8"/>
<line x1="1536.7" y1="2218.3" x2="1545.2" y2="2218.3" stroke="#000" stroke-width="2"/>
<line x1="1536.7" y1="2359.0" x2="1545.2" y2="2359.0" stroke="#000" stroke-width="2"/>
<text class="seb" font-size="26" text-anchor="end" x="1521.7" y="2202.3">100</text>
<text class="seb" font-size="26" text-anchor="end" x="1521.7" y="2353.0">10</text>
<text class="seb" font-size="26" text-anchor="end" x="1520.5" y="2503.0">0</text>
<text class="seb" font-size="27" textLength="256.8" lengthAdjust="spacingAndGlyphs" transform="translate(1429.5 2477.1) rotate(-90)">Evaluation Duration/</text>
<text class="seb" font-size="27" textLength="156.7" lengthAdjust="spacingAndGlyphs" transform="translate(1462.5 2425.4) rotate(-90)">Round (min)</text>
<rect x="1567.0" y="2222.7" width="23.7" height="25.0" fill="#939393"/>
<text class="seb" font-size="29" textLength="91.6" lengthAdjust="spacingAndGlyphs" x="1612.6" y="2243.0">FedML</text>
<rect x="1744.0" y="2222.7" width="26.0" height="25.0" fill="#000"/>
<text class="seb" font-size="29" textLength="84.9" lengthAdjust="spacingAndGlyphs" x="1791.3" y="2243.0">Flower</text>
<rect x="1915.7" y="2222.7" width="26.0" height="25.0" fill="#e0614f"/>
<text class="seb" font-size="29" textLength="109.8" lengthAdjust="spacingAndGlyphs" x="1962.6" y="2243.0">FedScale</text>
<rect x="1544.0" y="2482.3" width="41.0" height="14.4" fill="#939393"/>
<rect x="1590.7" y="2487.7" width="41.0" height="9.0" fill="#000"/>
<rect x="1635.0" y="2490.7" width="41.0" height="6.0" fill="#e0614f"/>
<rect x="1741.7" y="2477.3" width="41.0" height="19.4" fill="#000"/>
<rect x="1786.0" y="2482.3" width="41.0" height="14.4" fill="#e0614f"/>
<rect x="1890.0" y="2336.7" width="41.0" height="160.0" fill="#000"/>
<rect x="1936.7" y="2406.7" width="41.0" height="90.0" fill="#e0614f"/>
<rect x="2085.0" y="2274.3" width="41.0" height="222.4" fill="#e0614f"/>
<line x1="1565.7" y1="2478.0" x2="1565.7" y2="2486.0" stroke="#d6281c" stroke-width="2.4"/>
<line x1="1557.7" y1="2478.0" x2="1573.7" y2="2478.0" stroke="#d6281c" stroke-width="2.4"/>
<line x1="1557.7" y1="2486.0" x2="1573.7" y2="2486.0" stroke="#d6281c" stroke-width="2.4"/>
<line x1="1611.7" y1="2483.0" x2="1611.7" y2="2491.5" stroke="#e0614f" stroke-width="2.4"/>
<line x1="1603.7" y1="2483.0" x2="1619.7" y2="2483.0" stroke="#e0614f" stroke-width="2.4"/>
<line x1="1603.7" y1="2491.5" x2="1619.7" y2="2491.5" stroke="#e0614f" stroke-width="2.4"/>
<line x1="1656.7" y1="2485.5" x2="1656.7" y2="2494.0" stroke="#000" stroke-width="2.4"/>
<line x1="1648.7" y1="2485.5" x2="1664.7" y2="2485.5" stroke="#000" stroke-width="2.4"/>
<line x1="1648.7" y1="2494.0" x2="1664.7" y2="2494.0" stroke="#000" stroke-width="2.4"/>
<line x1="1762.7" y1="2465.7" x2="1762.7" y2="2490.7" stroke="#e0614f" stroke-width="2.4"/>
<line x1="1752.7" y1="2465.7" x2="1772.7" y2="2465.7" stroke="#e0614f" stroke-width="2.4"/>
<line x1="1752.7" y1="2490.7" x2="1772.7" y2="2490.7" stroke="#e0614f" stroke-width="2.4"/>
<line x1="1808.3" y1="2473.3" x2="1808.3" y2="2490.7" stroke="#000" stroke-width="2.4"/>
<line x1="1799.3" y1="2473.3" x2="1817.3" y2="2473.3" stroke="#000" stroke-width="2.4"/>
<line x1="1799.3" y1="2490.7" x2="1817.3" y2="2490.7" stroke="#000" stroke-width="2.4"/>
<line x1="1910.7" y1="2325.0" x2="1910.7" y2="2351.0" stroke="#e0614f" stroke-width="2.4"/>
<line x1="1900.7" y1="2325.0" x2="1920.7" y2="2325.0" stroke="#e0614f" stroke-width="2.4"/>
<line x1="1900.7" y1="2351.0" x2="1920.7" y2="2351.0" stroke="#e0614f" stroke-width="2.4"/>
<line x1="1957.3" y1="2400.0" x2="1957.3" y2="2416.0" stroke="#000" stroke-width="2.4"/>
<line x1="1948.3" y1="2400.0" x2="1966.3" y2="2400.0" stroke="#000" stroke-width="2.4"/>
<line x1="1948.3" y1="2416.0" x2="1966.3" y2="2416.0" stroke="#000" stroke-width="2.4"/>
<line x1="2106.7" y1="2270.0" x2="2106.7" y2="2276.0" stroke="#000" stroke-width="2.4"/>
<line x1="2098.7" y1="2270.0" x2="2114.7" y2="2270.0" stroke="#000" stroke-width="2.4"/>
<line x1="2098.7" y1="2276.0" x2="2114.7" y2="2276.0" stroke="#000" stroke-width="2.4"/>
<text class="seb" font-size="27" fill="#939393" textLength="28.2" lengthAdjust="spacingAndGlyphs" transform="translate(1571.7 2469.2) rotate(-90)">0.6</text>
<text class="seb" font-size="27" fill="#000" textLength="30.5" lengthAdjust="spacingAndGlyphs" transform="translate(1618.0 2468.5) rotate(-90)">0.4</text>
<text class="seb" font-size="27" fill="#e0614f" textLength="30.9" lengthAdjust="spacingAndGlyphs" transform="translate(1663.0 2476.5) rotate(-90)">0.3</text>
<text class="seb" font-size="27" fill="#000" textLength="30.9" lengthAdjust="spacingAndGlyphs" transform="translate(1768.0 2457.0) rotate(-90)">0.9</text>
<text class="seb" font-size="27" fill="#e0614f" textLength="31.6" lengthAdjust="spacingAndGlyphs" transform="translate(1813.7 2463.0) rotate(-90)">0.7</text>
<text class="seb" font-size="27" fill="#000" textLength="46.0" lengthAdjust="spacingAndGlyphs" transform="translate(1919.0 2315.1) rotate(-90)">14.5</text>
<text class="seb" font-size="27" fill="#e0614f" textLength="30.9" lengthAdjust="spacingAndGlyphs" transform="translate(1965.0 2389.4) rotate(-90)">4.4</text>
<text class="seb" font-size="27" fill="#e0614f" textLength="44.0" lengthAdjust="spacingAndGlyphs" transform="translate(2114.0 2261.1) rotate(-90)">40.9</text>
<text class="seb" font-size="26" fill="#e0614f" textLength="151.8" lengthAdjust="spacingAndGlyphs" x="1566.3" y="2366.7">Lower is better</text>
<path d="M1652 2382.7 C1658 2400 1660 2415 1657 2428" fill="none" stroke="#e0614f" stroke-width="2.2"/>
<polygon points="1656.7,2438.0 1650.5,2425.0 1657.0,2428.5 1664.0,2426.0" fill="#e0614f"/>
<text class="seb" font-size="22.5" fill="#6e6e6e" textLength="66.4" lengthAdjust="spacingAndGlyphs" x="1748.7" y="2320.7">Did not</text>
<text class="seb" font-size="22.5" fill="#6e6e6e" textLength="80.2" lengthAdjust="spacingAndGlyphs" x="1748.3" y="2343.3">complete</text>
<path d="M1766.7 2359 C1740 2390 1726 2430 1725.5 2466" fill="none" stroke="#6e6e6e" stroke-width="2.2"/>
<polygon points="1725.0,2478.0 1718.5,2464.0 1725.5,2467.5 1732.5,2465.0" fill="#6e6e6e"/>
<text class="seb" font-size="26" text-anchor="middle" x="1610.0" y="2536.7">10</text>
<text class="seb" font-size="26" text-anchor="middle" x="1763.0" y="2536.7">100</text>
<text class="seb" font-size="26" text-anchor="middle" x="1909.3" y="2536.7">1000</text>
<text class="seb" font-size="26" text-anchor="middle" x="2062.5" y="2536.7">10000</text>
<text class="seb" font-size="28" textLength="228.5" lengthAdjust="spacingAndGlyphs" x="1719.6" y="2582.3"># of Clients/Round</text>
<text class="sa" font-size="36" textLength="42.8" lengthAdjust="spacingAndGlyphs" x="1781.9" y="2641.0">(a)</text>
<line x1="2267.0" y1="2198.8" x2="2267.0" y2="2522.1" stroke="#000" stroke-width="1.6"/>
<line x1="2266.2" y1="2521.2" x2="2658.8" y2="2521.2" stroke="#000" stroke-width="1.6"/>
<line x1="2460.8" y1="2236.0" x2="2460.8" y2="2521.2" stroke="#e0e0e0" stroke-width="1"/>
<text class="seb" font-size="26" text-anchor="end" x="2238.8" y="2209.2">85</text>
<text class="seb" font-size="26" text-anchor="end" x="2238.8" y="2368.8">65</text>
<text class="seb" font-size="26" text-anchor="end" x="2238.8" y="2528.8">45</text>
<text class="seb" font-size="27" textLength="172.6" lengthAdjust="spacingAndGlyphs" transform="translate(2188.0 2446.3) rotate(-90)">Accuracy (%)</text>
<rect x="2300.5" y="2189.5" width="25.2" height="25.0" fill="#000"/>
<text class="seb" font-size="29" textLength="93.1" lengthAdjust="spacingAndGlyphs" x="2347.6" y="2210.8">FedML</text>
<rect x="2488.0" y="2189.5" width="25.0" height="25.0" fill="#e0614f"/>
<text class="seb" font-size="29" textLength="111.1" lengthAdjust="spacingAndGlyphs" x="2534.6" y="2210.8">FedScale</text>
<rect x="2300.5" y="2320.2" width="52.5" height="201.0" fill="#000"/>
<rect x="2375.5" y="2285.8" width="52.0" height="235.5" fill="#e0614f"/>
<rect x="2497.0" y="2396.5" width="52.2" height="124.8" fill="#000"/>
<rect x="2569.8" y="2367.5" width="52.2" height="153.8" fill="#e0614f"/>
<text class="seb" font-size="24" textLength="44.7" lengthAdjust="spacingAndGlyphs" x="2303.6" y="2306.2">70.1</text>
<text class="seb" font-size="24" fill="#e0614f" textLength="44.0" lengthAdjust="spacingAndGlyphs" x="2375.6" y="2272.5">74.3</text>
<text class="seb" font-size="24" textLength="44.7" lengthAdjust="spacingAndGlyphs" x="2497.0" y="2382.5">59.8</text>
<text class="seb" font-size="24" fill="#e0614f" textLength="44.1" lengthAdjust="spacingAndGlyphs" x="2570.9" y="2354.2">63.1</text>
<text class="seb" font-size="27" textLength="146.4" lengthAdjust="spacingAndGlyphs" x="2290.5" y="2559.5">OpenImage</text>
<text class="seb" font-size="23.5" textLength="158.6" lengthAdjust="spacingAndGlyphs" x="2473.0" y="2563.0">Google Speech</text>
<text class="sa" font-size="36" textLength="45.0" lengthAdjust="spacingAndGlyphs" x="2411.3" y="2641.0">(b)</text>
<rect x="1401.5" y="2684.0" width="1320.3" height="95.0" fill="#dcdcdc"/>
<text class="sa" font-size="33" textLength="1314.4" lengthAdjust="spacingAndGlyphs" x="1404.1" y="2719.0">(a) FedScale is more scalable than existing platforms for given resource in distributed mode</text>
<text class="sa" font-size="33" textLength="1303.8" lengthAdjust="spacingAndGlyphs" x="1404.0" y="2766.5">(b) Existing platforms can under-report practical performance due to suboptimal scalability</text>
<line x1="2832.7" y1="2190.0" x2="2832.7" y2="2504.6" stroke="#000" stroke-width="2.6"/>
<line x1="2831.4" y1="2503.3" x2="3279.3" y2="2503.3" stroke="#000" stroke-width="2.6"/>
<line x1="2958.3" y1="2503.3" x2="2958.3" y2="2491.3" stroke="#000" stroke-width="2.2"/>
<line x1="3083.7" y1="2503.3" x2="3083.7" y2="2491.3" stroke="#000" stroke-width="2.2"/>
<line x1="3209.0" y1="2503.3" x2="3209.0" y2="2491.3" stroke="#000" stroke-width="2.2"/>
<line x1="2832.7" y1="2248.3" x2="2844.7" y2="2248.3" stroke="#000" stroke-width="2.2"/>
<line x1="2832.7" y1="2344.0" x2="2844.7" y2="2344.0" stroke="#000" stroke-width="2.2"/>
<line x1="2832.7" y1="2440.0" x2="2844.7" y2="2440.0" stroke="#000" stroke-width="2.2"/>
<polyline points="2833.3,2476.7 2838.3,2443.3 2845.7,2398.3 2853.3,2380.0 2861.7,2361.7 2876.7,2333.3 2890.0,2306.7 2905.0,2285.3 2920.0,2277.7 2935.0,2270.7 2948.3,2265.3 2961.7,2256.7 2976.7,2252.3 2991.0,2244.7 3005.0,2242.7 3019.3,2236.7 3033.3,2235.7 3046.7,2227.3 3061.7,2223.0 3075.7,2221.3 3090.0,2221.3 3104.0,2221.3 3118.3,2216.7 3133.3,2213.3 3147.3,2210.3 3161.7,2209.0 3175.7,2209.7 3190.0,2207.3 3204.0,2206.0 3218.3,2202.0 3232.7,2200.0 3245.7,2199.0 3260.0,2201.3 3277.7,2197.7" fill="none" stroke="#808080" stroke-width="2.8" stroke-linejoin="round"/>
<polyline points="2833.3,2493.3 2840.0,2460.0 2846.7,2420.0 2860.0,2388.3 2875.0,2358.3 2890.0,2333.3 2905.0,2315.7 2919.3,2312.3 2933.3,2302.3 2948.3,2295.0 2962.3,2281.7 2976.7,2277.3 2991.0,2271.7 3005.0,2269.3 3019.3,2262.3 3033.3,2261.0 3046.7,2255.0 3061.7,2256.7 3075.7,2256.3 3090.0,2255.0 3104.0,2249.0 3118.3,2240.7 3132.3,2235.0 3146.7,2232.0 3161.7,2228.3 3175.7,2225.7 3190.0,2223.3 3204.0,2222.3 3218.3,2221.0 3232.7,2221.0 3246.7,2220.7 3260.7,2220.7 3271.7,2218.3" fill="none" stroke="#000" stroke-width="2.8" stroke-linejoin="round" stroke-dasharray="11 4.5"/>
<polyline points="2833.3,2496.7 2840.0,2463.3 2846.7,2420.0 2856.7,2410.7 2866.7,2393.3 2876.7,2375.0 2890.0,2360.0 2905.0,2325.0 2919.3,2315.0 2934.0,2303.3 2948.3,2301.7 2962.3,2295.0 2976.7,2293.3 2991.0,2285.7 3005.0,2294.0 3019.3,2290.3 3033.3,2288.3 3046.7,2280.0 3061.7,2275.3 3075.7,2271.0 3090.0,2265.0 3104.0,2260.0 3118.3,2262.3 3132.3,2259.3 3146.7,2255.0 3161.7,2245.7 3175.7,2247.7 3190.0,2245.0 3204.0,2245.7 3218.3,2235.7 3232.7,2234.3 3246.7,2234.0 3260.7,2234.0 3276.7,2234.0" fill="none" stroke="#5b5bd6" stroke-width="2.8" stroke-linejoin="round" stroke-dasharray="18 4.5 3 4.5"/>
<polyline points="2835.0,2500.0 2840.0,2473.3 2846.7,2436.7 2861.7,2413.3 2876.7,2391.7 2890.0,2391.7 2905.0,2361.7 2919.3,2351.7 2934.0,2332.7 2948.3,2328.3 2962.3,2323.3 2976.7,2318.3 2991.0,2308.3 3005.0,2320.0 3019.3,2328.3 3033.3,2336.7 3046.7,2330.0 3061.7,2310.0 3075.7,2303.3 3090.0,2296.7 3104.0,2304.0 3118.3,2301.7 3132.3,2300.0 3146.7,2290.7 3161.7,2286.7 3175.7,2287.3 3190.0,2293.3 3204.0,2292.3 3218.3,2286.7 3232.7,2283.3 3246.7,2284.0 3260.7,2282.7 3277.7,2282.7" fill="none" stroke="#e8202a" stroke-width="2.8" stroke-linejoin="round" stroke-dasharray="3 4.5"/>
<text class="se" font-size="29" text-anchor="end" x="2818.0" y="2258.3">60</text>
<text class="se" font-size="29" text-anchor="end" x="2818.0" y="2354.0">45</text>
<text class="se" font-size="29" text-anchor="end" x="2818.0" y="2450.0">30</text>
<text class="se" font-size="29" text-anchor="middle" x="2832.7" y="2537.5">0</text>
<text class="se" font-size="29" text-anchor="middle" x="2958.3" y="2537.5">20</text>
<text class="se" font-size="29" text-anchor="middle" x="3083.7" y="2537.5">40</text>
<text class="se" font-size="29" text-anchor="middle" x="3209.0" y="2537.5">60</text>
<text class="se" font-size="29" textLength="175.0" lengthAdjust="spacingAndGlyphs" transform="translate(2766.0 2435.3) rotate(-90)">Accuracy (%)</text>
<text class="se" font-size="29" textLength="254.3" lengthAdjust="spacingAndGlyphs" x="2927.8" y="2580.0">FL Runtime (hours)</text>
<line x1="2979.0" y1="2343.3" x2="3041.7" y2="2343.3" stroke="#808080" stroke-width="2.8"/>
<text class="sei" font-size="29" textLength="16.9" lengthAdjust="spacingAndGlyphs" x="3065.0" y="2353.3">σ</text>
<text class="se" font-size="29" textLength="127.0" lengthAdjust="spacingAndGlyphs" x="3082.0" y="2353.3">=0,K=100</text>
<line x1="2979.0" y1="2386.7" x2="3041.7" y2="2386.7" stroke="#000" stroke-width="2.8" stroke-dasharray="11 4.5"/>
<text class="sei" font-size="29" textLength="16.9" lengthAdjust="spacingAndGlyphs" x="3065.0" y="2396.7">σ</text>
<text class="se" font-size="29" textLength="164.3" lengthAdjust="spacingAndGlyphs" x="3082.0" y="2396.7">=0.01,K=100</text>
<line x1="2979.0" y1="2430.0" x2="3041.7" y2="2430.0" stroke="#5b5bd6" stroke-width="2.8" stroke-dasharray="18 4.5 3 4.5"/>
<text class="sei" font-size="29" textLength="16.9" lengthAdjust="spacingAndGlyphs" x="3065.0" y="2440.0">σ</text>
<text class="se" font-size="29" textLength="111.3" lengthAdjust="spacingAndGlyphs" x="3082.0" y="2440.0">=0,K=30</text>
<line x1="2979.0" y1="2472.3" x2="3041.7" y2="2472.3" stroke="#e8202a" stroke-width="2.8" stroke-dasharray="3 4.5"/>
<text class="sei" font-size="29" textLength="16.9" lengthAdjust="spacingAndGlyphs" x="3065.0" y="2482.3">σ</text>
<text class="se" font-size="29" textLength="149.3" lengthAdjust="spacingAndGlyphs" x="3082.0" y="2482.3">=0.01,K=30</text>
<text class="sa" font-size="36" textLength="42.6" lengthAdjust="spacingAndGlyphs" x="3012.6" y="2641.0">(c)</text>
<line x1="3466.0" y1="2199.0" x2="3466.0" y2="2509.3" stroke="#000" stroke-width="2"/>
<line x1="3465.0" y1="2508.3" x2="3935.7" y2="2508.3" stroke="#000" stroke-width="2"/>
<line x1="3622.7" y1="2508.3" x2="3622.7" y2="2503.8" stroke="#000" stroke-width="1.6"/>
<line x1="3778.3" y1="2508.3" x2="3778.3" y2="2503.8" stroke="#000" stroke-width="1.6"/>
<line x1="3935.7" y1="2508.3" x2="3935.7" y2="2503.8" stroke="#000" stroke-width="1.6"/>
<line x1="3466.0" y1="2199.0" x2="3470.5" y2="2199.0" stroke="#000" stroke-width="1.6"/>
<line x1="3466.0" y1="2260.0" x2="3470.5" y2="2260.0" stroke="#000" stroke-width="1.6"/>
<line x1="3466.0" y1="2322.3" x2="3470.5" y2="2322.3" stroke="#000" stroke-width="1.6"/>
<line x1="3466.0" y1="2385.0" x2="3470.5" y2="2385.0" stroke="#000" stroke-width="1.6"/>
<line x1="3466.0" y1="2446.0" x2="3470.5" y2="2446.0" stroke="#000" stroke-width="1.6"/>
<rect x="3467.5" y="2213.3" width="4.2" height="35.0" fill="#868686"/>
<rect x="3471.7" y="2213.3" width="55.0" height="35.0" fill="#cccccc"/>
<rect x="3526.7" y="2213.3" width="11.0" height="35.0" fill="#404040"/>
<rect x="3467.5" y="2274.3" width="9.2" height="35.7" fill="#868686"/>
<rect x="3476.7" y="2274.3" width="113.3" height="35.7" fill="#cccccc"/>
<rect x="3590.0" y="2274.3" width="15.0" height="35.7" fill="#404040"/>
<rect x="3467.5" y="2336.7" width="32.5" height="34.3" fill="#868686"/>
<rect x="3500.0" y="2336.7" width="82.7" height="34.3" fill="#cccccc"/>
<rect x="3582.7" y="2336.7" width="40.6" height="34.3" fill="#404040"/>
<rect x="3467.5" y="2398.0" width="86.5" height="34.3" fill="#868686"/>
<rect x="3554.0" y="2398.0" width="42.0" height="34.3" fill="#cccccc"/>
<rect x="3596.0" y="2398.0" width="140.0" height="34.3" fill="#404040"/>
<rect x="3467.5" y="2459.0" width="18.5" height="35.0" fill="#868686"/>
<rect x="3486.0" y="2459.0" width="378.0" height="35.0" fill="#cccccc"/>
<rect x="3864.0" y="2459.0" width="34.7" height="35.0" fill="#404040"/>
<text class="seb" font-size="26" text-anchor="middle" x="3435.0" y="2237.7">1</text>
<text class="seb" font-size="26" text-anchor="middle" x="3435.0" y="2299.3">2</text>
<text class="seb" font-size="26" text-anchor="middle" x="3435.0" y="2361.7">3</text>
<text class="seb" font-size="26" text-anchor="middle" x="3435.0" y="2424.0">4</text>
<text class="seb" font-size="26" text-anchor="middle" x="3435.0" y="2485.7">5</text>
<text class="seb" font-size="26" textLength="25.1" lengthAdjust="spacingAndGlyphs" x="3545.8" y="2237.7">69</text>
<text class="seb" font-size="26" textLength="37.5" lengthAdjust="spacingAndGlyphs" x="3611.3" y="2300.0">124</text>
<text class="seb" font-size="26" textLength="37.7" lengthAdjust="spacingAndGlyphs" x="3631.3" y="2362.3">151</text>
<text class="seb" font-size="26" textLength="37.9" lengthAdjust="spacingAndGlyphs" x="3742.3" y="2421.7">259</text>
<text class="seb" font-size="26" textLength="36.7" lengthAdjust="spacingAndGlyphs" x="3902.3" y="2481.7">416</text>
<text class="seb" font-size="27" textLength="107.6" lengthAdjust="spacingAndGlyphs" transform="translate(3410.5 2428.1) rotate(-90)">Client ID</text>
<rect x="3663.3" y="2211.7" width="21.7" height="21.0" fill="#868686" stroke="#b5b5b5" stroke-width="0.8"/>
<text class="seb" font-size="25" textLength="178.2" lengthAdjust="spacingAndGlyphs" x="3702.9" y="2230.0">Download Model</text>
<rect x="3663.3" y="2238.3" width="21.7" height="21.0" fill="#cccccc" stroke="#b5b5b5" stroke-width="0.8"/>
<text class="seb" font-size="25" textLength="96.8" lengthAdjust="spacingAndGlyphs" x="3702.1" y="2257.3">Compute</text>
<rect x="3663.3" y="2266.0" width="21.7" height="21.0" fill="#404040" stroke="#b5b5b5" stroke-width="0.8"/>
<text class="seb" font-size="25" textLength="167.9" lengthAdjust="spacingAndGlyphs" x="3702.7" y="2284.3">Upload Updates</text>
<line x1="3901.0" y1="2195.0" x2="3901.0" y2="2505.0" stroke="#d9381e" stroke-width="2.6" stroke-dasharray="18.5 18"/>
<text class="seb" font-size="25.5" fill="#d9381e" textLength="190.8" lengthAdjust="spacingAndGlyphs" x="3692.9" y="2358.3">Round completion</text>
<path d="M3830 2331 C3834 2318 3860 2311 3888 2307.5" fill="none" stroke="#d9381e" stroke-width="1.8"/>
<polygon points="3897.0,2306.5 3884.0,2302.5 3887.0,2308.0 3885.5,2313.5" fill="#d9381e"/>
<text class="seb" font-size="26" text-anchor="middle" x="3466.2" y="2545.7">0</text>
<text class="seb" font-size="26" text-anchor="middle" x="3622.5" y="2545.7">150</text>
<text class="seb" font-size="26" text-anchor="middle" x="3778.3" y="2545.7">300</text>
<text class="seb" font-size="26" text-anchor="middle" x="3934.5" y="2545.7">450</text>
<text class="seb" font-size="27" textLength="269.9" lengthAdjust="spacingAndGlyphs" x="3604.6" y="2584.3">Timeline of a Round (s)</text>
<text class="sa" font-size="36" textLength="46.3" lengthAdjust="spacingAndGlyphs" x="3701.0" y="2641.0">(d)</text>
<rect x="2926.2" y="2684.0" width="866.3" height="95.0" fill="#dcdcdc"/>
<text class="sa" font-size="33" textLength="858.8" lengthAdjust="spacingAndGlyphs" x="2930.1" y="2719.0">(c) FedScale can benchmark realistic end-to-end FL runtime</text>
<text class="sa" font-size="33" textLength="702.8" lengthAdjust="spacingAndGlyphs" x="2930.0" y="2766.5">(d) FedScale can pinpoint per client performance</text>
</svg>
</body></html>
